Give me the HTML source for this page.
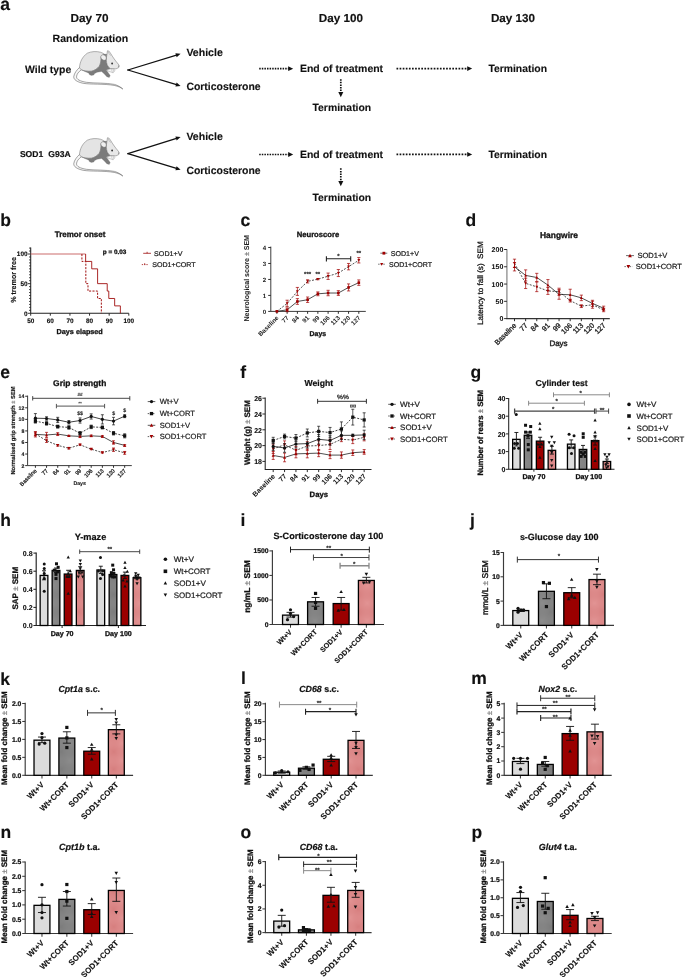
<!DOCTYPE html>
<html lang="en">
<head>
<meta charset="utf-8">
<title>Figure: corticosterone treatment in SOD1 G93A mice</title>
<style>
html,body{margin:0;padding:0;background:#fff;}
body{width:685px;height:977px;overflow:hidden;font-family:'Liberation Sans', sans-serif;}
svg{display:block;font-family:'Liberation Sans', sans-serif;}
svg text{font-family:'Liberation Sans', sans-serif;text-rendering:geometricPrecision;}
</style>
</head>
<body>
<svg width="685" height="977" viewBox="0 0 685 977">
<defs>
<pattern id="pg" width="1.5" height="1.5" patternUnits="userSpaceOnUse" patternTransform="rotate(45)"><rect width="1.5" height="1.5" fill="#8c8c8c"/><rect width="0.75" height="0.75" fill="#7c7c7c"/><rect x="0.75" y="0.75" width="0.75" height="0.75" fill="#7c7c7c"/></pattern>
<pattern id="pp" width="1.5" height="1.5" patternUnits="userSpaceOnUse" patternTransform="rotate(45)"><rect width="1.5" height="1.5" fill="#e29494"/><rect width="0.75" height="0.75" fill="#d67e7e"/><rect x="0.75" y="0.75" width="0.75" height="0.75" fill="#d67e7e"/></pattern>
</defs>
<rect width="685" height="977" fill="#fff"/>
<g id="panel-a">
<text x="0.20" y="9.70" font-size="17.5" font-weight="bold" fill="#111" stroke="#111" stroke-width="0.12">a</text>
<text x="70.50" y="21.90" font-size="11.6" font-weight="bold" fill="#111" stroke="#111" stroke-width="0.15" textLength="38.00" lengthAdjust="spacingAndGlyphs">Day 70</text>
<text x="318.80" y="21.90" font-size="11.6" font-weight="bold" fill="#111" stroke="#111" stroke-width="0.15" textLength="44.20" lengthAdjust="spacingAndGlyphs">Day 100</text>
<text x="490.90" y="21.90" font-size="11.6" font-weight="bold" fill="#111" stroke="#111" stroke-width="0.15" textLength="44.20" lengthAdjust="spacingAndGlyphs">Day 130</text>
<text x="52.60" y="41.60" font-size="10.5" font-weight="bold" fill="#111" stroke="#111" stroke-width="0.12" textLength="75.60" lengthAdjust="spacingAndGlyphs">Randomization</text>
<text x="25.00" y="73.20" font-size="10.4" font-weight="bold" fill="#111" stroke="#111" stroke-width="0.12" textLength="46.20" lengthAdjust="spacingAndGlyphs">Wild type</text>
<g transform="translate(70,46) scale(0.08177)" stroke-linejoin="round">
<path d="M118,262 C85,290 50,335 46,375 C44,410 80,438 160,456 C250,472 420,460 540,482 C590,492 620,508 646,526 C620,502 590,484 545,470 C440,448 300,458 200,444 C120,430 80,408 80,378 C80,345 105,315 140,290 Z" fill="#f7f7f7" stroke="#555" stroke-width="6.5"/>
<path d="M116,268 C118,200 150,130 212,88 C262,64 330,64 372,76 C392,82 406,90 416,98 L380,130 C380,180 376,215 356,250 C336,276 304,298 262,308 C220,312 170,304 140,292 Z" fill="#e4e4e4" stroke="#666" stroke-width="6"/>
<path d="M140,292 C170,304 220,312 262,308 C304,298 336,276 356,250 C376,215 380,180 380,130 L416,98 L452,102 C446,130 444,160 446,178 C446,215 458,240 472,256 L494,276 L444,292 L472,332 L492,362 L480,386 L450,376 L420,342 L386,312 L332,322 L302,336 L290,356 L260,360 L236,350 L230,332 L190,316 Z" fill="#7b7b7b" stroke="#707070" stroke-width="3"/>
<path d="M452,102 L458,58 L478,64 C492,84 502,98 510,112 C524,136 556,182 578,206 L600,234 L596,264 L562,280 L522,276 L494,276 L472,256 C458,240 446,215 446,178 C444,160 446,130 452,102 Z" fill="#e8e8e8" stroke="#666" stroke-width="6"/>
<path d="M466,72 C474,90 486,104 498,118" fill="none" stroke="#8a8a8a" stroke-width="5"/>
<path d="M380,150 C368,126 384,104 410,108 C434,112 448,134 442,160 C436,180 404,182 380,150 Z" fill="#efefef" stroke="#666" stroke-width="6"/>
<circle cx="515" cy="215" r="12" fill="#3a3a3a"/>
<circle cx="596" cy="246" r="9" fill="#808080"/>
<path d="M450,296 L494,280 L540,284 L548,300 L528,328 L500,318 L476,312 Z" fill="#f6f6f6" stroke="#858585" stroke-width="5"/>
<path d="M506,286 L520,322 M530,290 L536,314" fill="none" stroke="#8a8a8a" stroke-width="4"/>
</g>
<line x1="127.90" y1="70.00" x2="176.49" y2="55.06" stroke="#111" stroke-width="1.3" stroke-linecap="round"/>
<path d="M176.63,57.22 L180.60,53.80 L175.39,53.20 Z" fill="#111"/>
<line x1="127.90" y1="70.00" x2="176.48" y2="84.66" stroke="#111" stroke-width="1.3" stroke-linecap="round"/>
<path d="M175.40,86.52 L180.60,85.90 L176.61,82.50 Z" fill="#111"/>
<text x="186.40" y="56.30" font-size="10.5" font-weight="bold" fill="#111" stroke="#111" stroke-width="0.12" textLength="36.40" lengthAdjust="spacingAndGlyphs">Vehicle</text>
<text x="186.40" y="90.00" font-size="10.5" font-weight="bold" fill="#111" stroke="#111" stroke-width="0.12" textLength="74.20" lengthAdjust="spacingAndGlyphs">Corticosterone</text>
<line x1="259.20" y1="68.70" x2="288.80" y2="68.70" stroke="#111" stroke-width="1.7" stroke-dasharray="1.5 1.1" />
<path d="M288.20,66.30 L293.20,68.70 L288.20,71.10 Z" fill="#111"/>
<text x="300.00" y="72.00" font-size="10.4" font-weight="bold" fill="#111" stroke="#111" stroke-width="0.12" textLength="83.10" lengthAdjust="spacingAndGlyphs">End of treatment</text>
<line x1="396.50" y1="68.60" x2="467.80" y2="68.60" stroke="#111" stroke-width="1.7" stroke-dasharray="1.7 1.4" />
<path d="M467.20,66.20 L472.20,68.60 L467.20,71.00 Z" fill="#111"/>
<text x="488.40" y="72.00" font-size="10.4" font-weight="bold" fill="#111" stroke="#111" stroke-width="0.12" textLength="58.60" lengthAdjust="spacingAndGlyphs">Termination</text>
<line x1="340.80" y1="79.20" x2="340.80" y2="92.80" stroke="#111" stroke-width="1.7" stroke-dasharray="1.5 1.1" />
<path d="M338.30,92.10 L340.80,97.20 L343.30,92.10 Z" fill="#111"/>
<text x="312.50" y="111.20" font-size="10.4" font-weight="bold" fill="#111" stroke="#111" stroke-width="0.12" textLength="58.70" lengthAdjust="spacingAndGlyphs">Termination</text>
<text x="19.90" y="157.00" font-size="8.55" font-weight="bold" fill="#111" stroke="#111" stroke-width="0.2">SOD1 <tspan x="48.3">G93A</tspan></text>
<g transform="translate(70,133.0) scale(0.08177)" stroke-linejoin="round">
<path d="M118,262 C85,290 50,335 46,375 C44,410 80,438 160,456 C250,472 420,460 540,482 C590,492 620,508 646,526 C620,502 590,484 545,470 C440,448 300,458 200,444 C120,430 80,408 80,378 C80,345 105,315 140,290 Z" fill="#f7f7f7" stroke="#555" stroke-width="6.5"/>
<path d="M116,268 C118,200 150,130 212,88 C262,64 330,64 372,76 C392,82 406,90 416,98 L380,130 C380,180 376,215 356,250 C336,276 304,298 262,308 C220,312 170,304 140,292 Z" fill="#e4e4e4" stroke="#666" stroke-width="6"/>
<path d="M140,292 C170,304 220,312 262,308 C304,298 336,276 356,250 C376,215 380,180 380,130 L416,98 L452,102 C446,130 444,160 446,178 C446,215 458,240 472,256 L494,276 L444,292 L472,332 L492,362 L480,386 L450,376 L420,342 L386,312 L332,322 L302,336 L290,356 L260,360 L236,350 L230,332 L190,316 Z" fill="#7b7b7b" stroke="#707070" stroke-width="3"/>
<path d="M452,102 L458,58 L478,64 C492,84 502,98 510,112 C524,136 556,182 578,206 L600,234 L596,264 L562,280 L522,276 L494,276 L472,256 C458,240 446,215 446,178 C444,160 446,130 452,102 Z" fill="#e8e8e8" stroke="#666" stroke-width="6"/>
<path d="M466,72 C474,90 486,104 498,118" fill="none" stroke="#8a8a8a" stroke-width="5"/>
<path d="M380,150 C368,126 384,104 410,108 C434,112 448,134 442,160 C436,180 404,182 380,150 Z" fill="#efefef" stroke="#666" stroke-width="6"/>
<circle cx="515" cy="215" r="12" fill="#3a3a3a"/>
<circle cx="596" cy="246" r="9" fill="#808080"/>
<path d="M450,296 L494,280 L540,284 L548,300 L528,328 L500,318 L476,312 Z" fill="#f6f6f6" stroke="#858585" stroke-width="5"/>
<path d="M506,286 L520,322 M530,290 L536,314" fill="none" stroke="#8a8a8a" stroke-width="4"/>
</g>
<line x1="127.90" y1="153.70" x2="176.50" y2="138.30" stroke="#111" stroke-width="1.3" stroke-linecap="round"/>
<path d="M176.66,140.45 L180.60,137.00 L175.39,136.45 Z" fill="#111"/>
<line x1="127.90" y1="153.70" x2="176.49" y2="168.45" stroke="#111" stroke-width="1.3" stroke-linecap="round"/>
<path d="M175.40,170.31 L180.60,169.70 L176.62,166.30 Z" fill="#111"/>
<text x="186.40" y="140.30" font-size="10.5" font-weight="bold" fill="#111" stroke="#111" stroke-width="0.12" textLength="36.40" lengthAdjust="spacingAndGlyphs">Vehicle</text>
<text x="186.40" y="174.00" font-size="10.5" font-weight="bold" fill="#111" stroke="#111" stroke-width="0.12" textLength="74.20" lengthAdjust="spacingAndGlyphs">Corticosterone</text>
<line x1="259.20" y1="154.50" x2="288.80" y2="154.50" stroke="#111" stroke-width="1.7" stroke-dasharray="1.5 1.1" />
<path d="M288.20,152.10 L293.20,154.50 L288.20,156.90 Z" fill="#111"/>
<text x="300.00" y="157.90" font-size="10.4" font-weight="bold" fill="#111" stroke="#111" stroke-width="0.12" textLength="83.10" lengthAdjust="spacingAndGlyphs">End of treatment</text>
<line x1="396.50" y1="154.40" x2="467.80" y2="154.40" stroke="#111" stroke-width="1.7" stroke-dasharray="1.7 1.4" />
<path d="M467.20,152.00 L472.20,154.40 L467.20,156.80 Z" fill="#111"/>
<text x="488.40" y="157.90" font-size="10.4" font-weight="bold" fill="#111" stroke="#111" stroke-width="0.12" textLength="58.60" lengthAdjust="spacingAndGlyphs">Termination</text>
<line x1="340.80" y1="168.30" x2="340.80" y2="181.80" stroke="#111" stroke-width="1.7" stroke-dasharray="1.5 1.1" />
<path d="M338.30,181.10 L340.80,186.20 L343.30,181.10 Z" fill="#111"/>
<text x="312.50" y="201.20" font-size="10.4" font-weight="bold" fill="#111" stroke="#111" stroke-width="0.12" textLength="58.70" lengthAdjust="spacingAndGlyphs">Termination</text>
</g>
<g id="panel-b">
<text x="0.20" y="226.30" font-size="17.5" font-weight="bold" fill="#111" stroke="#111" stroke-width="0.12">b</text>
<text x="54.80" y="236.90" font-size="8" font-weight="bold" fill="#111" stroke="#111" stroke-width="0.3" textLength="50.50" lengthAdjust="spacingAndGlyphs">Tremor onset</text>
<path d="M30.7,247.5 V313.3 H128.8" stroke="#222" stroke-width="1.05" fill="none" />
<line x1="27.90" y1="313.30" x2="30.70" y2="313.30" stroke="#222" stroke-width="0.9" />
<line x1="29.10" y1="310.34" x2="30.70" y2="310.34" stroke="#222" stroke-width="0.9" />
<line x1="29.10" y1="307.37" x2="30.70" y2="307.37" stroke="#222" stroke-width="0.9" />
<line x1="29.10" y1="304.41" x2="30.70" y2="304.41" stroke="#222" stroke-width="0.9" />
<line x1="29.10" y1="301.44" x2="30.70" y2="301.44" stroke="#222" stroke-width="0.9" />
<line x1="29.10" y1="298.48" x2="30.70" y2="298.48" stroke="#222" stroke-width="0.9" />
<line x1="29.10" y1="295.51" x2="30.70" y2="295.51" stroke="#222" stroke-width="0.9" />
<line x1="29.10" y1="292.55" x2="30.70" y2="292.55" stroke="#222" stroke-width="0.9" />
<line x1="29.10" y1="289.58" x2="30.70" y2="289.58" stroke="#222" stroke-width="0.9" />
<line x1="29.10" y1="286.62" x2="30.70" y2="286.62" stroke="#222" stroke-width="0.9" />
<line x1="27.90" y1="283.65" x2="30.70" y2="283.65" stroke="#222" stroke-width="0.9" />
<line x1="29.10" y1="280.69" x2="30.70" y2="280.69" stroke="#222" stroke-width="0.9" />
<line x1="29.10" y1="277.72" x2="30.70" y2="277.72" stroke="#222" stroke-width="0.9" />
<line x1="29.10" y1="274.75" x2="30.70" y2="274.75" stroke="#222" stroke-width="0.9" />
<line x1="29.10" y1="271.79" x2="30.70" y2="271.79" stroke="#222" stroke-width="0.9" />
<line x1="29.10" y1="268.83" x2="30.70" y2="268.83" stroke="#222" stroke-width="0.9" />
<line x1="29.10" y1="265.86" x2="30.70" y2="265.86" stroke="#222" stroke-width="0.9" />
<line x1="29.10" y1="262.89" x2="30.70" y2="262.89" stroke="#222" stroke-width="0.9" />
<line x1="29.10" y1="259.93" x2="30.70" y2="259.93" stroke="#222" stroke-width="0.9" />
<line x1="29.10" y1="256.97" x2="30.70" y2="256.97" stroke="#222" stroke-width="0.9" />
<line x1="27.90" y1="254.00" x2="30.70" y2="254.00" stroke="#222" stroke-width="0.9" />
<line x1="29.10" y1="251.04" x2="30.70" y2="251.04" stroke="#222" stroke-width="0.9" />
<line x1="29.10" y1="248.07" x2="30.70" y2="248.07" stroke="#222" stroke-width="0.9" />
<text x="27.50" y="315.60" font-size="6.4" font-weight="bold" fill="#111" stroke="#111" stroke-width="0.14" text-anchor="end">0</text>
<text x="27.50" y="285.95" font-size="6.4" font-weight="bold" fill="#111" stroke="#111" stroke-width="0.14" text-anchor="end">50</text>
<text x="27.50" y="256.30" font-size="6.4" font-weight="bold" fill="#111" stroke="#111" stroke-width="0.14" text-anchor="end">100</text>
<line x1="30.70" y1="313.30" x2="30.70" y2="315.70" stroke="#222" stroke-width="0.95" />
<text x="30.70" y="322.60" font-size="6.4" font-weight="bold" fill="#111" stroke="#111" stroke-width="0.14" text-anchor="middle">50</text>
<line x1="50.32" y1="313.30" x2="50.32" y2="315.70" stroke="#222" stroke-width="0.95" />
<text x="50.32" y="322.60" font-size="6.4" font-weight="bold" fill="#111" stroke="#111" stroke-width="0.14" text-anchor="middle">60</text>
<line x1="69.94" y1="313.30" x2="69.94" y2="315.70" stroke="#222" stroke-width="0.95" />
<text x="69.94" y="322.60" font-size="6.4" font-weight="bold" fill="#111" stroke="#111" stroke-width="0.14" text-anchor="middle">70</text>
<line x1="89.56" y1="313.30" x2="89.56" y2="315.70" stroke="#222" stroke-width="0.95" />
<text x="89.56" y="322.60" font-size="6.4" font-weight="bold" fill="#111" stroke="#111" stroke-width="0.14" text-anchor="middle">80</text>
<line x1="109.18" y1="313.30" x2="109.18" y2="315.70" stroke="#222" stroke-width="0.95" />
<text x="109.18" y="322.60" font-size="6.4" font-weight="bold" fill="#111" stroke="#111" stroke-width="0.14" text-anchor="middle">90</text>
<line x1="128.80" y1="313.30" x2="128.80" y2="315.70" stroke="#222" stroke-width="0.95" />
<text x="128.80" y="322.60" font-size="6.4" font-weight="bold" fill="#111" stroke="#111" stroke-width="0.14" text-anchor="middle">100</text>
<text x="56.60" y="334.30" font-size="7.2" font-weight="bold" fill="#111" stroke="#111" stroke-width="0.3" textLength="46.20" lengthAdjust="spacingAndGlyphs">Days elapsed</text>
<text x="16.00" y="302.80" font-size="7.4" font-weight="bold" fill="#111" stroke="#111" stroke-width="0.12" transform="rotate(-90 16.00 302.80)" textLength="45.80" lengthAdjust="spacingAndGlyphs">% tremor free</text>
<text x="102.80" y="253.90" font-size="6.3" font-weight="bold" fill="#111" stroke="#111" stroke-width="0.3" textLength="23.50" lengthAdjust="spacingAndGlyphs">p = 0.03</text>
<path d="M30.70,254.00 H85.64" stroke="#cc6c6c" stroke-width="1.1" fill="none" />
<path d="M85.64,254.00 H85.64 V261.41 H91.72 V268.83 H97.60 V283.65 H107.22 V291.06 H108.79 V298.48 H114.67 V305.89 H120.36 V313.30" stroke="#a01010" stroke-width="0.9" fill="none" />
<path d="M81.91,254.00 H81.91 V261.41 H85.83 V283.65 H87.99 V291.06 H97.60 V298.48 H101.33 V313.30" stroke="#a01010" stroke-width="1.0" fill="none" stroke-dasharray="2.1 1.3" />
<line x1="143.20" y1="253.30" x2="151.00" y2="253.30" stroke="#a01010" stroke-width="0.8" />
<line x1="147.10" y1="251.80" x2="147.10" y2="253.30" stroke="#a01010" stroke-width="0.8" />
<line x1="141.80" y1="264.60" x2="148.20" y2="264.60" stroke="#a01010" stroke-width="0.8" stroke-dasharray="1.3 1" />
<line x1="144.70" y1="263.20" x2="144.70" y2="264.60" stroke="#a01010" stroke-width="0.8" />
<text x="154.10" y="256.00" font-size="6.9" font-weight="normal" fill="#222" stroke="#222" stroke-width="0.22" textLength="28.30" lengthAdjust="spacingAndGlyphs">SOD1+V</text>
<text x="152.20" y="267.30" font-size="6.9" font-weight="normal" fill="#222" stroke="#222" stroke-width="0.22" textLength="43.50" lengthAdjust="spacingAndGlyphs">SOD1+CORT</text>
</g>
<g id="panel-c">
<text x="240.50" y="226.30" font-size="17.5" font-weight="bold" fill="#111" stroke="#111" stroke-width="0.12">c</text>
<text x="296.70" y="236.90" font-size="7.7" font-weight="bold" fill="#111" stroke="#111" stroke-width="0.3" textLength="42.50" lengthAdjust="spacingAndGlyphs">Neuroscore</text>
<path d="M270.8,246.6 V311.4 H365.8" stroke="#333" stroke-width="0.95" fill="none" />
<line x1="268.20" y1="311.40" x2="270.80" y2="311.40" stroke="#222" stroke-width="0.95" />
<text x="266.20" y="313.60" font-size="6.1" font-weight="bold" fill="#222" stroke="#222" stroke-width="0.0" text-anchor="end">0</text>
<line x1="268.20" y1="295.42" x2="270.80" y2="295.42" stroke="#222" stroke-width="0.95" />
<text x="266.20" y="297.62" font-size="6.1" font-weight="bold" fill="#222" stroke="#222" stroke-width="0.0" text-anchor="end">1</text>
<line x1="268.20" y1="279.44" x2="270.80" y2="279.44" stroke="#222" stroke-width="0.95" />
<text x="266.20" y="281.64" font-size="6.1" font-weight="bold" fill="#222" stroke="#222" stroke-width="0.0" text-anchor="end">2</text>
<line x1="268.20" y1="263.46" x2="270.80" y2="263.46" stroke="#222" stroke-width="0.95" />
<text x="266.20" y="265.66" font-size="6.1" font-weight="bold" fill="#222" stroke="#222" stroke-width="0.0" text-anchor="end">3</text>
<line x1="268.20" y1="247.48" x2="270.80" y2="247.48" stroke="#222" stroke-width="0.95" />
<text x="266.20" y="249.68" font-size="6.1" font-weight="bold" fill="#222" stroke="#222" stroke-width="0.0" text-anchor="end">4</text>
<line x1="276.90" y1="311.40" x2="276.90" y2="313.80" stroke="#222" stroke-width="0.95" />
<line x1="287.14" y1="311.40" x2="287.14" y2="313.80" stroke="#222" stroke-width="0.95" />
<line x1="297.38" y1="311.40" x2="297.38" y2="313.80" stroke="#222" stroke-width="0.95" />
<line x1="307.62" y1="311.40" x2="307.62" y2="313.80" stroke="#222" stroke-width="0.95" />
<line x1="317.86" y1="311.40" x2="317.86" y2="313.80" stroke="#222" stroke-width="0.95" />
<line x1="328.10" y1="311.40" x2="328.10" y2="313.80" stroke="#222" stroke-width="0.95" />
<line x1="338.34" y1="311.40" x2="338.34" y2="313.80" stroke="#222" stroke-width="0.95" />
<line x1="348.58" y1="311.40" x2="348.58" y2="313.80" stroke="#222" stroke-width="0.95" />
<line x1="358.82" y1="311.40" x2="358.82" y2="313.80" stroke="#222" stroke-width="0.95" />
<text x="279.10" y="318.30" font-size="6.3" font-weight="bold" fill="#222" stroke="#222" stroke-width="0.0" text-anchor="end" transform="rotate(-45 279.10 318.30)">Baseline</text>
<text x="289.34" y="318.30" font-size="6.3" font-weight="bold" fill="#222" stroke="#222" stroke-width="0.0" text-anchor="end" transform="rotate(-45 289.34 318.30)">77</text>
<text x="299.58" y="318.30" font-size="6.3" font-weight="bold" fill="#222" stroke="#222" stroke-width="0.0" text-anchor="end" transform="rotate(-45 299.58 318.30)">84</text>
<text x="309.82" y="318.30" font-size="6.3" font-weight="bold" fill="#222" stroke="#222" stroke-width="0.0" text-anchor="end" transform="rotate(-45 309.82 318.30)">91</text>
<text x="320.06" y="318.30" font-size="6.3" font-weight="bold" fill="#222" stroke="#222" stroke-width="0.0" text-anchor="end" transform="rotate(-45 320.06 318.30)">99</text>
<text x="330.30" y="318.30" font-size="6.3" font-weight="bold" fill="#222" stroke="#222" stroke-width="0.0" text-anchor="end" transform="rotate(-45 330.30 318.30)">106</text>
<text x="340.54" y="318.30" font-size="6.3" font-weight="bold" fill="#222" stroke="#222" stroke-width="0.0" text-anchor="end" transform="rotate(-45 340.54 318.30)">113</text>
<text x="350.78" y="318.30" font-size="6.3" font-weight="bold" fill="#222" stroke="#222" stroke-width="0.0" text-anchor="end" transform="rotate(-45 350.78 318.30)">120</text>
<text x="361.02" y="318.30" font-size="6.3" font-weight="bold" fill="#222" stroke="#222" stroke-width="0.0" text-anchor="end" transform="rotate(-45 361.02 318.30)">127</text>
<text x="309.60" y="336.10" font-size="7.1" font-weight="bold" fill="#111" stroke="#111" stroke-width="0.3" textLength="16.50" lengthAdjust="spacingAndGlyphs">Days</text>
<text x="249.20" y="321.50" font-size="7.05" font-weight="bold" fill="#1c1c1c" stroke="#1c1c1c" stroke-width="0.05" transform="rotate(-90 249.20 321.50)" textLength="86.50" lengthAdjust="spacingAndGlyphs">Neurological score <tspan fill="#6e6e6e" stroke="#6e6e6e" stroke-width="0.15" font-weight="normal">±</tspan> SEM</text>
<path d="M276.90,311.40 L287.14,309.80 L297.38,301.49 L307.62,299.73 L317.86,293.82 L328.10,293.02 L338.34,293.02 L348.58,287.43 L358.82,282.64" stroke="#222" stroke-width="0.8" fill="none" />
<path d="M276.90,311.40 L287.14,303.41 L297.38,291.42 L307.62,281.36 L317.86,279.12 L328.10,276.24 L338.34,273.05 L348.58,266.66 L358.82,260.26" stroke="#222" stroke-width="0.8" fill="none" stroke-dasharray="2 1.4" />
<rect x="275.60" y="310.10" width="2.60" height="2.60" fill="#a00000"/>
<path d="M287.14,307.88 V311.72 M285.54,307.88 H288.74 M285.54,311.72 H288.74" stroke="#a00000" stroke-width="0.7" fill="none" />
<rect x="285.84" y="308.50" width="2.60" height="2.60" fill="#a00000"/>
<path d="M297.38,298.62 V304.37 M295.78,298.62 H298.98 M295.78,304.37 H298.98" stroke="#a00000" stroke-width="0.7" fill="none" />
<rect x="296.08" y="300.19" width="2.60" height="2.60" fill="#a00000"/>
<path d="M307.62,297.02 V302.45 M306.02,297.02 H309.22 M306.02,302.45 H309.22" stroke="#a00000" stroke-width="0.7" fill="none" />
<rect x="306.32" y="298.43" width="2.60" height="2.60" fill="#a00000"/>
<path d="M317.86,291.90 V295.74 M316.26,291.90 H319.46 M316.26,295.74 H319.46" stroke="#a00000" stroke-width="0.7" fill="none" />
<rect x="316.56" y="292.52" width="2.60" height="2.60" fill="#a00000"/>
<path d="M328.10,290.31 V295.74 M326.50,290.31 H329.70 M326.50,295.74 H329.70" stroke="#a00000" stroke-width="0.7" fill="none" />
<rect x="326.80" y="291.72" width="2.60" height="2.60" fill="#a00000"/>
<path d="M338.34,290.63 V295.42 M336.74,290.63 H339.94 M336.74,295.42 H339.94" stroke="#a00000" stroke-width="0.7" fill="none" />
<rect x="337.04" y="291.72" width="2.60" height="2.60" fill="#a00000"/>
<path d="M348.58,283.91 V290.95 M346.98,283.91 H350.18 M346.98,290.95 H350.18" stroke="#a00000" stroke-width="0.7" fill="none" />
<rect x="347.28" y="286.13" width="2.60" height="2.60" fill="#a00000"/>
<path d="M358.82,279.92 V285.35 M357.22,279.92 H360.42 M357.22,285.35 H360.42" stroke="#a00000" stroke-width="0.7" fill="none" />
<rect x="357.52" y="281.34" width="2.60" height="2.60" fill="#a00000"/>
<path d="M275.47,310.23 L278.33,310.23 L276.90,312.83 Z" fill="#a00000"/>
<path d="M287.14,300.21 V306.61 M285.54,300.21 H288.74 M285.54,306.61 H288.74" stroke="#a00000" stroke-width="0.7" fill="none" />
<path d="M285.71,302.24 L288.57,302.24 L287.14,304.84 Z" fill="#a00000"/>
<path d="M297.38,287.43 V295.42 M295.78,287.43 H298.98 M295.78,295.42 H298.98" stroke="#a00000" stroke-width="0.7" fill="none" />
<path d="M295.95,290.25 L298.81,290.25 L297.38,292.85 Z" fill="#a00000"/>
<path d="M307.62,279.76 V282.96 M306.02,279.76 H309.22 M306.02,282.96 H309.22" stroke="#a00000" stroke-width="0.7" fill="none" />
<path d="M306.19,280.19 L309.05,280.19 L307.62,282.79 Z" fill="#a00000"/>
<path d="M317.86,278.48 V279.76 M316.26,278.48 H319.46 M316.26,279.76 H319.46" stroke="#a00000" stroke-width="0.7" fill="none" />
<path d="M316.43,277.95 L319.29,277.95 L317.86,280.55 Z" fill="#a00000"/>
<path d="M328.10,273.05 V279.44 M326.50,273.05 H329.70 M326.50,279.44 H329.70" stroke="#a00000" stroke-width="0.7" fill="none" />
<path d="M326.67,275.07 L329.53,275.07 L328.10,277.67 Z" fill="#a00000"/>
<path d="M338.34,269.53 V276.56 M336.74,269.53 H339.94 M336.74,276.56 H339.94" stroke="#a00000" stroke-width="0.7" fill="none" />
<path d="M336.91,271.88 L339.77,271.88 L338.34,274.48 Z" fill="#a00000"/>
<path d="M348.58,263.46 V269.85 M346.98,263.46 H350.18 M346.98,269.85 H350.18" stroke="#a00000" stroke-width="0.7" fill="none" />
<path d="M347.15,265.49 L350.01,265.49 L348.58,268.09 Z" fill="#a00000"/>
<path d="M358.82,257.55 V262.98 M357.22,257.55 H360.42 M357.22,262.98 H360.42" stroke="#a00000" stroke-width="0.7" fill="none" />
<path d="M357.39,259.09 L360.25,259.09 L358.82,261.69 Z" fill="#a00000"/>
<text x="307.62" y="276.30" font-size="6.0" font-weight="bold" fill="#222" stroke="#222" stroke-width="0.15" text-anchor="middle">***</text>
<text x="317.86" y="276.30" font-size="6.0" font-weight="bold" fill="#222" stroke="#222" stroke-width="0.15" text-anchor="middle">**</text>
<path d="M326.40,258.80 H350.70 M326.40,256.20 V261.40 M350.70,256.20 V261.40" stroke="#222" stroke-width="1.1" fill="none" />
<text x="338.40" y="258.00" font-size="6.0" font-weight="bold" fill="#222" stroke="#222" stroke-width="0.15" text-anchor="middle">*</text>
<text x="358.82" y="255.20" font-size="6.0" font-weight="bold" fill="#222" stroke="#222" stroke-width="0.15" text-anchor="middle">**</text>
<line x1="380.30" y1="253.20" x2="387.30" y2="253.20" stroke="#333" stroke-width="0.7" />
<rect x="382.50" y="251.80" width="2.80" height="2.80" fill="#a00000"/>
<text x="390.70" y="255.70" font-size="7.0" font-weight="normal" fill="#222" stroke="#222" stroke-width="0.22" textLength="28.20" lengthAdjust="spacingAndGlyphs">SOD1+V</text>
<line x1="378.10" y1="264.20" x2="385.10" y2="264.20" stroke="#333" stroke-width="0.7" stroke-dasharray="1.5 1.1" />
<path d="M380.16,262.94 L383.24,262.94 L381.70,265.74 Z" fill="#a00000"/>
<text x="389.00" y="266.70" font-size="7.0" font-weight="normal" fill="#222" stroke="#222" stroke-width="0.22" textLength="43.00" lengthAdjust="spacingAndGlyphs">SOD1+CORT</text>
</g>
<g id="panel-d">
<text x="465.40" y="226.30" font-size="17.5" font-weight="bold" fill="#111" stroke="#111" stroke-width="0.12">d</text>
<text x="540.00" y="237.70" font-size="8.4" font-weight="bold" fill="#111" stroke="#111" stroke-width="0.3" textLength="38.00" lengthAdjust="spacingAndGlyphs">Hangwire</text>
<path d="M506.9,249.2 V318.6" stroke="#8c8c8c" stroke-width="1.3" fill="none" />
<path d="M506.29999999999995,318.6 H609.8" stroke="#333" stroke-width="1.05" fill="none" />
<line x1="504.10" y1="318.60" x2="506.90" y2="318.60" stroke="#222" stroke-width="0.95" />
<text x="503.30" y="321.10" font-size="7.0" font-weight="bold" fill="#111" stroke="#111" stroke-width="0.05" text-anchor="end">0</text>
<line x1="504.10" y1="301.33" x2="506.90" y2="301.33" stroke="#222" stroke-width="0.95" />
<text x="503.30" y="303.83" font-size="7.0" font-weight="bold" fill="#111" stroke="#111" stroke-width="0.05" text-anchor="end">50</text>
<line x1="504.10" y1="284.05" x2="506.90" y2="284.05" stroke="#222" stroke-width="0.95" />
<text x="503.30" y="286.55" font-size="7.0" font-weight="bold" fill="#111" stroke="#111" stroke-width="0.05" text-anchor="end">100</text>
<line x1="504.10" y1="266.78" x2="506.90" y2="266.78" stroke="#222" stroke-width="0.95" />
<text x="503.30" y="269.28" font-size="7.0" font-weight="bold" fill="#111" stroke="#111" stroke-width="0.05" text-anchor="end">150</text>
<line x1="504.10" y1="249.50" x2="506.90" y2="249.50" stroke="#222" stroke-width="0.95" />
<text x="503.30" y="252.00" font-size="7.0" font-weight="bold" fill="#111" stroke="#111" stroke-width="0.05" text-anchor="end">200</text>
<line x1="514.50" y1="318.60" x2="514.50" y2="321.20" stroke="#222" stroke-width="0.95" />
<line x1="525.64" y1="318.60" x2="525.64" y2="321.20" stroke="#222" stroke-width="0.95" />
<line x1="536.78" y1="318.60" x2="536.78" y2="321.20" stroke="#222" stroke-width="0.95" />
<line x1="547.92" y1="318.60" x2="547.92" y2="321.20" stroke="#222" stroke-width="0.95" />
<line x1="559.06" y1="318.60" x2="559.06" y2="321.20" stroke="#222" stroke-width="0.95" />
<line x1="570.20" y1="318.60" x2="570.20" y2="321.20" stroke="#222" stroke-width="0.95" />
<line x1="581.34" y1="318.60" x2="581.34" y2="321.20" stroke="#222" stroke-width="0.95" />
<line x1="592.48" y1="318.60" x2="592.48" y2="321.20" stroke="#222" stroke-width="0.95" />
<line x1="603.62" y1="318.60" x2="603.62" y2="321.20" stroke="#222" stroke-width="0.95" />
<text x="516.90" y="326.00" font-size="7.2" font-weight="normal" fill="#222" stroke="#222" stroke-width="0.3" text-anchor="end" transform="rotate(-45 516.90 326.00)">Baseline</text>
<text x="528.04" y="326.00" font-size="7.2" font-weight="normal" fill="#222" stroke="#222" stroke-width="0.3" text-anchor="end" transform="rotate(-45 528.04 326.00)">77</text>
<text x="539.18" y="326.00" font-size="7.2" font-weight="normal" fill="#222" stroke="#222" stroke-width="0.3" text-anchor="end" transform="rotate(-45 539.18 326.00)">84</text>
<text x="550.32" y="326.00" font-size="7.2" font-weight="normal" fill="#222" stroke="#222" stroke-width="0.3" text-anchor="end" transform="rotate(-45 550.32 326.00)">91</text>
<text x="561.46" y="326.00" font-size="7.2" font-weight="normal" fill="#222" stroke="#222" stroke-width="0.3" text-anchor="end" transform="rotate(-45 561.46 326.00)">99</text>
<text x="572.60" y="326.00" font-size="7.2" font-weight="normal" fill="#222" stroke="#222" stroke-width="0.3" text-anchor="end" transform="rotate(-45 572.60 326.00)">106</text>
<text x="583.74" y="326.00" font-size="7.2" font-weight="normal" fill="#222" stroke="#222" stroke-width="0.3" text-anchor="end" transform="rotate(-45 583.74 326.00)">113</text>
<text x="594.88" y="326.00" font-size="7.2" font-weight="normal" fill="#222" stroke="#222" stroke-width="0.3" text-anchor="end" transform="rotate(-45 594.88 326.00)">120</text>
<text x="606.02" y="326.00" font-size="7.2" font-weight="normal" fill="#222" stroke="#222" stroke-width="0.3" text-anchor="end" transform="rotate(-45 606.02 326.00)">127</text>
<text x="549.40" y="346.00" font-size="7.9" font-weight="normal" fill="#222" stroke="#222" stroke-width="0.4" textLength="18.20" lengthAdjust="spacingAndGlyphs">Days</text>
<text x="482.60" y="325.10" font-size="7.9" font-weight="normal" fill="#111" stroke="#111" stroke-width="0.28" transform="rotate(-90 482.60 325.10)" textLength="83.80" lengthAdjust="spacingAndGlyphs">Latency to fall (s)  SEM</text>
<path d="M514.50,266.78 L525.64,275.41 L536.78,277.49 L547.92,285.09 L559.06,294.42 L570.20,294.76 L581.34,297.87 L592.48,303.40 L603.62,308.24" stroke="#222" stroke-width="0.8" fill="none" />
<path d="M514.50,263.32 L525.64,283.36 L536.78,286.81 L547.92,290.96 L559.06,291.65 L570.20,300.63 L581.34,306.16 L592.48,304.78 L603.62,309.96" stroke="#222" stroke-width="0.8" fill="none" stroke-dasharray="2 1.4" />
<path d="M514.50,262.63 V270.92 M512.90,262.63 H516.10 M512.90,270.92 H516.10" stroke="#a00000" stroke-width="0.7" fill="none" />
<path d="M513.07,267.95 L515.93,267.95 L514.50,265.35 Z" fill="#a00000"/>
<path d="M525.64,269.88 V280.94 M524.04,269.88 H527.24 M524.04,280.94 H527.24" stroke="#a00000" stroke-width="0.7" fill="none" />
<path d="M524.21,276.58 L527.07,276.58 L525.64,273.98 Z" fill="#a00000"/>
<path d="M536.78,273.34 V281.63 M535.18,273.34 H538.38 M535.18,281.63 H538.38" stroke="#a00000" stroke-width="0.7" fill="none" />
<path d="M535.35,278.66 L538.21,278.66 L536.78,276.06 Z" fill="#a00000"/>
<path d="M547.92,279.56 V290.61 M546.32,279.56 H549.52 M546.32,290.61 H549.52" stroke="#a00000" stroke-width="0.7" fill="none" />
<path d="M546.49,286.26 L549.35,286.26 L547.92,283.66 Z" fill="#a00000"/>
<path d="M559.06,289.58 V299.25 M557.46,289.58 H560.66 M557.46,299.25 H560.66" stroke="#a00000" stroke-width="0.7" fill="none" />
<path d="M557.63,295.59 L560.49,295.59 L559.06,292.99 Z" fill="#a00000"/>
<path d="M570.20,289.23 V300.29 M568.60,289.23 H571.80 M568.60,300.29 H571.80" stroke="#a00000" stroke-width="0.7" fill="none" />
<path d="M568.77,295.93 L571.63,295.93 L570.20,293.33 Z" fill="#a00000"/>
<path d="M581.34,295.11 V300.63 M579.74,295.11 H582.94 M579.74,300.63 H582.94" stroke="#a00000" stroke-width="0.7" fill="none" />
<path d="M579.91,299.04 L582.77,299.04 L581.34,296.44 Z" fill="#a00000"/>
<path d="M592.48,300.29 V306.51 M590.88,300.29 H594.08 M590.88,306.51 H594.08" stroke="#a00000" stroke-width="0.7" fill="none" />
<path d="M591.05,304.57 L593.91,304.57 L592.48,301.97 Z" fill="#a00000"/>
<path d="M603.62,306.16 V310.31 M602.02,306.16 H605.22 M602.02,310.31 H605.22" stroke="#a00000" stroke-width="0.7" fill="none" />
<path d="M602.19,309.41 L605.05,309.41 L603.62,306.81 Z" fill="#a00000"/>
<path d="M514.50,259.17 V267.47 M512.90,259.17 H516.10 M512.90,267.47 H516.10" stroke="#a00000" stroke-width="0.7" fill="none" />
<path d="M513.07,262.15 L515.93,262.15 L514.50,264.75 Z" fill="#a00000"/>
<path d="M525.64,278.18 V288.54 M524.04,278.18 H527.24 M524.04,288.54 H527.24" stroke="#a00000" stroke-width="0.7" fill="none" />
<path d="M524.21,282.19 L527.07,282.19 L525.64,284.79 Z" fill="#a00000"/>
<path d="M536.78,281.98 V291.65 M535.18,281.98 H538.38 M535.18,291.65 H538.38" stroke="#a00000" stroke-width="0.7" fill="none" />
<path d="M535.35,285.64 L538.21,285.64 L536.78,288.24 Z" fill="#a00000"/>
<path d="M547.92,287.50 V294.42 M546.32,287.50 H549.52 M546.32,294.42 H549.52" stroke="#a00000" stroke-width="0.7" fill="none" />
<path d="M546.49,289.79 L549.35,289.79 L547.92,292.39 Z" fill="#a00000"/>
<path d="M559.06,288.20 V295.11 M557.46,288.20 H560.66 M557.46,295.11 H560.66" stroke="#a00000" stroke-width="0.7" fill="none" />
<path d="M557.63,290.48 L560.49,290.48 L559.06,293.08 Z" fill="#a00000"/>
<path d="M570.20,299.25 V302.02 M568.60,299.25 H571.80 M568.60,302.02 H571.80" stroke="#a00000" stroke-width="0.7" fill="none" />
<path d="M568.77,299.46 L571.63,299.46 L570.20,302.06 Z" fill="#a00000"/>
<path d="M581.34,304.78 V307.54 M579.74,304.78 H582.94 M579.74,307.54 H582.94" stroke="#a00000" stroke-width="0.7" fill="none" />
<path d="M579.91,304.99 L582.77,304.99 L581.34,307.59 Z" fill="#a00000"/>
<path d="M592.48,301.33 V308.24 M590.88,301.33 H594.08 M590.88,308.24 H594.08" stroke="#a00000" stroke-width="0.7" fill="none" />
<path d="M591.05,303.61 L593.91,303.61 L592.48,306.21 Z" fill="#a00000"/>
<path d="M603.62,308.24 V311.69 M602.02,308.24 H605.22 M602.02,311.69 H605.22" stroke="#a00000" stroke-width="0.7" fill="none" />
<path d="M602.19,308.79 L605.05,308.79 L603.62,311.39 Z" fill="#a00000"/>
<line x1="626.00" y1="255.60" x2="634.00" y2="255.60" stroke="#333" stroke-width="0.7" />
<path d="M628.13,257.13 L631.87,257.13 L630.00,253.73 Z" fill="#a00000"/>
<text x="637.40" y="258.30" font-size="7.5" font-weight="normal" fill="#222" stroke="#222" stroke-width="0.22" textLength="30.00" lengthAdjust="spacingAndGlyphs">SOD1+V</text>
<line x1="624.40" y1="266.60" x2="632.40" y2="266.60" stroke="#333" stroke-width="0.7" stroke-dasharray="1.5 1.1" />
<path d="M626.53,265.07 L630.27,265.07 L628.40,268.47 Z" fill="#a00000"/>
<text x="635.80" y="269.30" font-size="7.5" font-weight="normal" fill="#222" stroke="#222" stroke-width="0.22" textLength="46.00" lengthAdjust="spacingAndGlyphs">SOD1+CORT</text>
</g>
<g id="panel-e">
<text x="0.20" y="377.80" font-size="17.5" font-weight="bold" fill="#111" stroke="#111" stroke-width="0.12">e</text>
<text x="53.10" y="386.00" font-size="8.4" font-weight="bold" fill="#111" stroke="#111" stroke-width="0.3" textLength="53.20" lengthAdjust="spacingAndGlyphs">Grip strength</text>
<path d="M27.6,395.6 V465.6 H131.8" stroke="#333" stroke-width="0.95" fill="none" />
<line x1="25.20" y1="465.60" x2="27.60" y2="465.60" stroke="#222" stroke-width="0.95" />
<text x="24.40" y="467.50" font-size="5.2" font-weight="bold" fill="#111" stroke="#111" stroke-width="0.14" text-anchor="end">2</text>
<line x1="25.20" y1="454.04" x2="27.60" y2="454.04" stroke="#222" stroke-width="0.95" />
<text x="24.40" y="455.94" font-size="5.2" font-weight="bold" fill="#111" stroke="#111" stroke-width="0.14" text-anchor="end">4</text>
<line x1="25.20" y1="442.48" x2="27.60" y2="442.48" stroke="#222" stroke-width="0.95" />
<text x="24.40" y="444.38" font-size="5.2" font-weight="bold" fill="#111" stroke="#111" stroke-width="0.14" text-anchor="end">6</text>
<line x1="25.20" y1="430.92" x2="27.60" y2="430.92" stroke="#222" stroke-width="0.95" />
<text x="24.40" y="432.82" font-size="5.2" font-weight="bold" fill="#111" stroke="#111" stroke-width="0.14" text-anchor="end">8</text>
<line x1="25.20" y1="419.36" x2="27.60" y2="419.36" stroke="#222" stroke-width="0.95" />
<text x="24.40" y="421.26" font-size="5.2" font-weight="bold" fill="#111" stroke="#111" stroke-width="0.14" text-anchor="end">10</text>
<line x1="25.20" y1="407.80" x2="27.60" y2="407.80" stroke="#222" stroke-width="0.95" />
<text x="24.40" y="409.70" font-size="5.2" font-weight="bold" fill="#111" stroke="#111" stroke-width="0.14" text-anchor="end">12</text>
<line x1="25.20" y1="396.24" x2="27.60" y2="396.24" stroke="#222" stroke-width="0.95" />
<text x="24.40" y="398.14" font-size="5.2" font-weight="bold" fill="#111" stroke="#111" stroke-width="0.14" text-anchor="end">14</text>
<line x1="35.40" y1="465.60" x2="35.40" y2="467.80" stroke="#222" stroke-width="0.95" />
<line x1="46.56" y1="465.60" x2="46.56" y2="467.80" stroke="#222" stroke-width="0.95" />
<line x1="57.72" y1="465.60" x2="57.72" y2="467.80" stroke="#222" stroke-width="0.95" />
<line x1="68.88" y1="465.60" x2="68.88" y2="467.80" stroke="#222" stroke-width="0.95" />
<line x1="80.04" y1="465.60" x2="80.04" y2="467.80" stroke="#222" stroke-width="0.95" />
<line x1="91.20" y1="465.60" x2="91.20" y2="467.80" stroke="#222" stroke-width="0.95" />
<line x1="102.36" y1="465.60" x2="102.36" y2="467.80" stroke="#222" stroke-width="0.95" />
<line x1="113.52" y1="465.60" x2="113.52" y2="467.80" stroke="#222" stroke-width="0.95" />
<line x1="124.68" y1="465.60" x2="124.68" y2="467.80" stroke="#222" stroke-width="0.95" />
<text x="37.20" y="471.20" font-size="5.6" font-weight="normal" fill="#222" stroke="#222" stroke-width="0.25" text-anchor="end" transform="rotate(-45 37.20 471.20)">Baseline</text>
<text x="48.36" y="471.20" font-size="5.6" font-weight="normal" fill="#222" stroke="#222" stroke-width="0.25" text-anchor="end" transform="rotate(-45 48.36 471.20)">77</text>
<text x="59.52" y="471.20" font-size="5.6" font-weight="normal" fill="#222" stroke="#222" stroke-width="0.25" text-anchor="end" transform="rotate(-45 59.52 471.20)">84</text>
<text x="70.68" y="471.20" font-size="5.6" font-weight="normal" fill="#222" stroke="#222" stroke-width="0.25" text-anchor="end" transform="rotate(-45 70.68 471.20)">91</text>
<text x="81.84" y="471.20" font-size="5.6" font-weight="normal" fill="#222" stroke="#222" stroke-width="0.25" text-anchor="end" transform="rotate(-45 81.84 471.20)">99</text>
<text x="93.00" y="471.20" font-size="5.6" font-weight="normal" fill="#222" stroke="#222" stroke-width="0.25" text-anchor="end" transform="rotate(-45 93.00 471.20)">106</text>
<text x="104.16" y="471.20" font-size="5.6" font-weight="normal" fill="#222" stroke="#222" stroke-width="0.25" text-anchor="end" transform="rotate(-45 104.16 471.20)">113</text>
<text x="115.32" y="471.20" font-size="5.6" font-weight="normal" fill="#222" stroke="#222" stroke-width="0.25" text-anchor="end" transform="rotate(-45 115.32 471.20)">120</text>
<text x="126.48" y="471.20" font-size="5.6" font-weight="normal" fill="#222" stroke="#222" stroke-width="0.25" text-anchor="end" transform="rotate(-45 126.48 471.20)">127</text>
<text x="73.40" y="485.00" font-size="5.3" font-weight="bold" fill="#222" stroke="#222" stroke-width="0.1" textLength="12.60" lengthAdjust="spacingAndGlyphs">Days</text>
<text x="15.40" y="474.60" font-size="5.8" font-weight="bold" fill="#111" stroke="#111" stroke-width="0.15" transform="rotate(-90 15.40 474.60)" textLength="88.30" lengthAdjust="spacingAndGlyphs">Normalised grip strength <tspan fill="#6e6e6e" stroke="#6e6e6e" stroke-width="0.15" font-weight="normal">±</tspan> SEM</text>
<path d="M35.40,434.39 L46.56,434.97 L57.72,434.10 L68.88,435.83 L80.04,436.41 L91.20,435.83 L102.36,436.41 L113.52,442.48 L124.68,445.37" stroke="#222" stroke-width="0.8" fill="none" />
<path d="M35.40,433.81 L46.56,440.75 L57.72,445.37 L68.88,448.26 L80.04,444.79 L91.20,449.13 L102.36,452.60 L113.52,449.71 L124.68,452.88" stroke="#222" stroke-width="0.8" fill="none" stroke-dasharray="2 1.4" />
<path d="M35.40,418.20 L46.56,418.49 L57.72,419.94 L68.88,422.25 L80.04,420.52 L91.20,416.47 L102.36,419.36 L113.52,421.09 L124.68,416.18" stroke="#111" stroke-width="0.8" fill="none" />
<path d="M35.40,421.09 L46.56,423.41 L57.72,426.59 L68.88,427.45 L80.04,433.23 L91.20,426.87 L102.36,427.45 L113.52,433.23 L124.68,435.83" stroke="#111" stroke-width="0.8" fill="none" stroke-dasharray="2 1.4" />
<path d="M35.40,431.79 V436.99 M33.90,431.79 H36.90 M33.90,436.99 H36.90" stroke="#a00000" stroke-width="0.7" fill="none" />
<path d="M33.86,435.65 L36.94,435.65 L35.40,432.85 Z" fill="#a00000"/>
<path d="M46.56,432.37 V437.57 M45.06,432.37 H48.06 M45.06,437.57 H48.06" stroke="#a00000" stroke-width="0.7" fill="none" />
<path d="M45.02,436.23 L48.10,436.23 L46.56,433.43 Z" fill="#a00000"/>
<path d="M57.72,432.65 V435.54 M56.22,432.65 H59.22 M56.22,435.54 H59.22" stroke="#a00000" stroke-width="0.7" fill="none" />
<path d="M56.18,435.36 L59.26,435.36 L57.72,432.56 Z" fill="#a00000"/>
<path d="M68.88,435.25 V436.41 M67.38,435.25 H70.38 M67.38,436.41 H70.38" stroke="#a00000" stroke-width="0.7" fill="none" />
<path d="M67.34,437.09 L70.42,437.09 L68.88,434.29 Z" fill="#a00000"/>
<path d="M80.04,435.25 V437.57 M78.54,435.25 H81.54 M78.54,437.57 H81.54" stroke="#a00000" stroke-width="0.7" fill="none" />
<path d="M78.50,437.67 L81.58,437.67 L80.04,434.87 Z" fill="#a00000"/>
<path d="M91.20,434.97 V436.70 M89.70,434.97 H92.70 M89.70,436.70 H92.70" stroke="#a00000" stroke-width="0.7" fill="none" />
<path d="M89.66,437.09 L92.74,437.09 L91.20,434.29 Z" fill="#a00000"/>
<path d="M102.36,435.54 V437.28 M100.86,435.54 H103.86 M100.86,437.28 H103.86" stroke="#a00000" stroke-width="0.7" fill="none" />
<path d="M100.82,437.67 L103.90,437.67 L102.36,434.87 Z" fill="#a00000"/>
<path d="M113.52,440.75 V444.21 M112.02,440.75 H115.02 M112.02,444.21 H115.02" stroke="#a00000" stroke-width="0.7" fill="none" />
<path d="M111.98,443.74 L115.06,443.74 L113.52,440.94 Z" fill="#a00000"/>
<path d="M124.68,444.50 V446.24 M123.18,444.50 H126.18 M123.18,446.24 H126.18" stroke="#a00000" stroke-width="0.7" fill="none" />
<path d="M123.14,446.63 L126.22,446.63 L124.68,443.83 Z" fill="#a00000"/>
<path d="M35.40,431.79 V435.83 M33.90,431.79 H36.90 M33.90,435.83 H36.90" stroke="#a00000" stroke-width="0.7" fill="none" />
<path d="M33.86,432.55 L36.94,432.55 L35.40,435.35 Z" fill="#a00000"/>
<path d="M46.56,439.01 V442.48 M45.06,439.01 H48.06 M45.06,442.48 H48.06" stroke="#a00000" stroke-width="0.7" fill="none" />
<path d="M45.02,439.49 L48.10,439.49 L46.56,442.29 Z" fill="#a00000"/>
<path d="M57.72,444.50 V446.24 M56.22,444.50 H59.22 M56.22,446.24 H59.22" stroke="#a00000" stroke-width="0.7" fill="none" />
<path d="M56.18,444.11 L59.26,444.11 L57.72,446.91 Z" fill="#a00000"/>
<path d="M68.88,447.39 V449.13 M67.38,447.39 H70.38 M67.38,449.13 H70.38" stroke="#a00000" stroke-width="0.7" fill="none" />
<path d="M67.34,447.00 L70.42,447.00 L68.88,449.80 Z" fill="#a00000"/>
<path d="M80.04,444.21 V445.37 M78.54,444.21 H81.54 M78.54,445.37 H81.54" stroke="#a00000" stroke-width="0.7" fill="none" />
<path d="M78.50,443.53 L81.58,443.53 L80.04,446.33 Z" fill="#a00000"/>
<path d="M91.20,448.55 V449.71 M89.70,448.55 H92.70 M89.70,449.71 H92.70" stroke="#a00000" stroke-width="0.7" fill="none" />
<path d="M89.66,447.87 L92.74,447.87 L91.20,450.67 Z" fill="#a00000"/>
<path d="M102.36,452.02 V453.17 M100.86,452.02 H103.86 M100.86,453.17 H103.86" stroke="#a00000" stroke-width="0.7" fill="none" />
<path d="M100.82,451.34 L103.90,451.34 L102.36,454.14 Z" fill="#a00000"/>
<path d="M113.52,447.97 V451.44 M112.02,447.97 H115.02 M112.02,451.44 H115.02" stroke="#a00000" stroke-width="0.7" fill="none" />
<path d="M111.98,448.45 L115.06,448.45 L113.52,451.25 Z" fill="#a00000"/>
<path d="M124.68,451.44 V454.33 M123.18,451.44 H126.18 M123.18,454.33 H126.18" stroke="#a00000" stroke-width="0.7" fill="none" />
<path d="M123.14,451.62 L126.22,451.62 L124.68,454.42 Z" fill="#a00000"/>
<path d="M35.40,413.58 V422.83 M33.90,413.58 H36.90 M33.90,422.83 H36.90" stroke="#111" stroke-width="0.7" fill="none" />
<circle cx="35.40" cy="418.20" r="1.60" fill="#111"/>
<path d="M46.56,416.76 V420.23 M45.06,416.76 H48.06 M45.06,420.23 H48.06" stroke="#111" stroke-width="0.7" fill="none" />
<circle cx="46.56" cy="418.49" r="1.60" fill="#111"/>
<path d="M57.72,417.34 V422.54 M56.22,417.34 H59.22 M56.22,422.54 H59.22" stroke="#111" stroke-width="0.7" fill="none" />
<circle cx="57.72" cy="419.94" r="1.60" fill="#111"/>
<path d="M68.88,420.52 V423.98 M67.38,420.52 H70.38 M67.38,423.98 H70.38" stroke="#111" stroke-width="0.7" fill="none" />
<circle cx="68.88" cy="422.25" r="1.60" fill="#111"/>
<path d="M80.04,417.92 V423.12 M78.54,417.92 H81.54 M78.54,423.12 H81.54" stroke="#111" stroke-width="0.7" fill="none" />
<circle cx="80.04" cy="420.52" r="1.60" fill="#111"/>
<path d="M91.20,413.87 V419.07 M89.70,413.87 H92.70 M89.70,419.07 H92.70" stroke="#111" stroke-width="0.7" fill="none" />
<circle cx="91.20" cy="416.47" r="1.60" fill="#111"/>
<path d="M102.36,414.74 V423.98 M100.86,414.74 H103.86 M100.86,423.98 H103.86" stroke="#111" stroke-width="0.7" fill="none" />
<circle cx="102.36" cy="419.36" r="1.60" fill="#111"/>
<path d="M113.52,417.34 V424.85 M112.02,417.34 H115.02 M112.02,424.85 H115.02" stroke="#111" stroke-width="0.7" fill="none" />
<circle cx="113.52" cy="421.09" r="1.60" fill="#111"/>
<path d="M124.68,414.74 V417.63 M123.18,414.74 H126.18 M123.18,417.63 H126.18" stroke="#111" stroke-width="0.7" fill="none" />
<circle cx="124.68" cy="416.18" r="1.60" fill="#111"/>
<path d="M35.40,419.36 V422.83 M33.90,419.36 H36.90 M33.90,422.83 H36.90" stroke="#111" stroke-width="0.7" fill="none" />
<rect x="33.80" y="419.49" width="3.20" height="3.20" fill="#111"/>
<path d="M46.56,421.67 V425.14 M45.06,421.67 H48.06 M45.06,425.14 H48.06" stroke="#111" stroke-width="0.7" fill="none" />
<rect x="44.96" y="421.81" width="3.20" height="3.20" fill="#111"/>
<path d="M57.72,425.14 V428.03 M56.22,425.14 H59.22 M56.22,428.03 H59.22" stroke="#111" stroke-width="0.7" fill="none" />
<rect x="56.12" y="424.99" width="3.20" height="3.20" fill="#111"/>
<path d="M68.88,425.72 V429.19 M67.38,425.72 H70.38 M67.38,429.19 H70.38" stroke="#111" stroke-width="0.7" fill="none" />
<rect x="67.28" y="425.85" width="3.20" height="3.20" fill="#111"/>
<path d="M80.04,431.50 V434.97 M78.54,431.50 H81.54 M78.54,434.97 H81.54" stroke="#111" stroke-width="0.7" fill="none" />
<rect x="78.44" y="431.63" width="3.20" height="3.20" fill="#111"/>
<path d="M91.20,425.14 V428.61 M89.70,425.14 H92.70 M89.70,428.61 H92.70" stroke="#111" stroke-width="0.7" fill="none" />
<rect x="89.60" y="425.27" width="3.20" height="3.20" fill="#111"/>
<path d="M102.36,426.01 V428.90 M100.86,426.01 H103.86 M100.86,428.90 H103.86" stroke="#111" stroke-width="0.7" fill="none" />
<rect x="100.76" y="425.85" width="3.20" height="3.20" fill="#111"/>
<path d="M113.52,431.50 V434.97 M112.02,431.50 H115.02 M112.02,434.97 H115.02" stroke="#111" stroke-width="0.7" fill="none" />
<rect x="111.92" y="431.63" width="3.20" height="3.20" fill="#111"/>
<path d="M124.68,433.81 V437.86 M123.18,433.81 H126.18 M123.18,437.86 H126.18" stroke="#111" stroke-width="0.7" fill="none" />
<rect x="123.08" y="434.23" width="3.20" height="3.20" fill="#111"/>
<path d="M32.70,398.30 H129.80 M32.70,396.10 V400.50 M129.80,396.10 V400.50" stroke="#333" stroke-width="0.9" fill="none" />
<text x="80.10" y="396.00" font-size="4.6" font-weight="bold" fill="#333" stroke="#333" stroke-width="0.1" text-anchor="middle">##</text>
<path d="M56.40,406.10 H104.60 M56.40,403.90 V408.30 M104.60,403.90 V408.30" stroke="#555" stroke-width="1.0" fill="none" />
<text x="80.10" y="405.20" font-size="4.8" font-weight="bold" fill="#444" stroke="#444" stroke-width="0" text-anchor="middle">**</text>
<text x="80.10" y="415.20" font-size="5.2" font-weight="normal" fill="#333" stroke="#333" stroke-width="0.22" text-anchor="middle">$$</text>
<text x="113.60" y="415.20" font-size="5.2" font-weight="normal" fill="#333" stroke="#333" stroke-width="0.22" text-anchor="middle">$</text>
<text x="124.70" y="411.60" font-size="5.2" font-weight="normal" fill="#333" stroke="#333" stroke-width="0.22" text-anchor="middle">$</text>
<line x1="147.70" y1="401.60" x2="155.30" y2="401.60" stroke="#333" stroke-width="0.8" />
<circle cx="151.50" cy="401.60" r="1.65" fill="#111"/>
<text x="159.80" y="404.34" font-size="7.6" font-weight="normal" fill="#222" stroke="#222" stroke-width="0.22" textLength="18.80" lengthAdjust="spacingAndGlyphs">Wt+V</text>
<line x1="147.70" y1="413.60" x2="155.30" y2="413.60" stroke="#333" stroke-width="0.8" stroke-dasharray="1.5 1.1" />
<rect x="149.85" y="411.95" width="3.30" height="3.30" fill="#111"/>
<text x="159.80" y="416.34" font-size="7.6" font-weight="normal" fill="#222" stroke="#222" stroke-width="0.22" textLength="35.20" lengthAdjust="spacingAndGlyphs">Wt+CORT</text>
<line x1="147.70" y1="425.30" x2="155.30" y2="425.30" stroke="#333" stroke-width="0.8" />
<path d="M149.69,426.79 L153.31,426.79 L151.50,423.49 Z" fill="#a00000"/>
<text x="159.80" y="428.04" font-size="7.6" font-weight="normal" fill="#222" stroke="#222" stroke-width="0.22" textLength="30.20" lengthAdjust="spacingAndGlyphs">SOD1+V</text>
<line x1="147.70" y1="436.60" x2="155.30" y2="436.60" stroke="#333" stroke-width="0.8" stroke-dasharray="1.5 1.1" />
<path d="M149.69,435.12 L153.31,435.12 L151.50,438.42 Z" fill="#a00000"/>
<text x="159.80" y="439.34" font-size="7.6" font-weight="normal" fill="#222" stroke="#222" stroke-width="0.22" textLength="46.60" lengthAdjust="spacingAndGlyphs">SOD1+CORT</text>
</g>
<g id="panel-f">
<text x="240.20" y="377.80" font-size="17.5" font-weight="bold" fill="#111" stroke="#111" stroke-width="0.12">f</text>
<text x="304.50" y="386.30" font-size="8.6" font-weight="bold" fill="#111" stroke="#111" stroke-width="0.2" textLength="28.60" lengthAdjust="spacingAndGlyphs">Weight</text>
<path d="M265.2,397.6 V469.5 H371.5" stroke="#222" stroke-width="1.05" fill="none" />
<line x1="262.40" y1="461.40" x2="265.20" y2="461.40" stroke="#222" stroke-width="0.95" />
<text x="262.00" y="464.10" font-size="7.0" font-weight="bold" fill="#111" stroke="#111" stroke-width="0.14" text-anchor="end">18</text>
<line x1="262.40" y1="445.60" x2="265.20" y2="445.60" stroke="#222" stroke-width="0.95" />
<text x="262.00" y="448.30" font-size="7.0" font-weight="bold" fill="#111" stroke="#111" stroke-width="0.14" text-anchor="end">20</text>
<line x1="262.40" y1="429.80" x2="265.20" y2="429.80" stroke="#222" stroke-width="0.95" />
<text x="262.00" y="432.50" font-size="7.0" font-weight="bold" fill="#111" stroke="#111" stroke-width="0.14" text-anchor="end">22</text>
<line x1="262.40" y1="414.00" x2="265.20" y2="414.00" stroke="#222" stroke-width="0.95" />
<text x="262.00" y="416.70" font-size="7.0" font-weight="bold" fill="#111" stroke="#111" stroke-width="0.14" text-anchor="end">24</text>
<line x1="262.40" y1="398.20" x2="265.20" y2="398.20" stroke="#222" stroke-width="0.95" />
<text x="262.00" y="400.90" font-size="7.0" font-weight="bold" fill="#111" stroke="#111" stroke-width="0.14" text-anchor="end">26</text>
<line x1="273.20" y1="469.50" x2="273.20" y2="472.10" stroke="#222" stroke-width="0.95" />
<line x1="284.57" y1="469.50" x2="284.57" y2="472.10" stroke="#222" stroke-width="0.95" />
<line x1="295.94" y1="469.50" x2="295.94" y2="472.10" stroke="#222" stroke-width="0.95" />
<line x1="307.31" y1="469.50" x2="307.31" y2="472.10" stroke="#222" stroke-width="0.95" />
<line x1="318.68" y1="469.50" x2="318.68" y2="472.10" stroke="#222" stroke-width="0.95" />
<line x1="330.05" y1="469.50" x2="330.05" y2="472.10" stroke="#222" stroke-width="0.95" />
<line x1="341.42" y1="469.50" x2="341.42" y2="472.10" stroke="#222" stroke-width="0.95" />
<line x1="352.79" y1="469.50" x2="352.79" y2="472.10" stroke="#222" stroke-width="0.95" />
<line x1="364.16" y1="469.50" x2="364.16" y2="472.10" stroke="#222" stroke-width="0.95" />
<text x="275.60" y="476.80" font-size="7.0" font-weight="bold" fill="#111" stroke="#111" stroke-width="0.02" text-anchor="end" transform="rotate(-45 275.60 476.80)">Baseline</text>
<text x="286.97" y="476.80" font-size="7.0" font-weight="bold" fill="#111" stroke="#111" stroke-width="0.02" text-anchor="end" transform="rotate(-45 286.97 476.80)">77</text>
<text x="298.34" y="476.80" font-size="7.0" font-weight="bold" fill="#111" stroke="#111" stroke-width="0.02" text-anchor="end" transform="rotate(-45 298.34 476.80)">84</text>
<text x="309.71" y="476.80" font-size="7.0" font-weight="bold" fill="#111" stroke="#111" stroke-width="0.02" text-anchor="end" transform="rotate(-45 309.71 476.80)">91</text>
<text x="321.08" y="476.80" font-size="7.0" font-weight="bold" fill="#111" stroke="#111" stroke-width="0.02" text-anchor="end" transform="rotate(-45 321.08 476.80)">99</text>
<text x="332.45" y="476.80" font-size="7.0" font-weight="bold" fill="#111" stroke="#111" stroke-width="0.02" text-anchor="end" transform="rotate(-45 332.45 476.80)">106</text>
<text x="343.82" y="476.80" font-size="7.0" font-weight="bold" fill="#111" stroke="#111" stroke-width="0.02" text-anchor="end" transform="rotate(-45 343.82 476.80)">113</text>
<text x="355.19" y="476.80" font-size="7.0" font-weight="bold" fill="#111" stroke="#111" stroke-width="0.02" text-anchor="end" transform="rotate(-45 355.19 476.80)">120</text>
<text x="366.56" y="476.80" font-size="7.0" font-weight="bold" fill="#111" stroke="#111" stroke-width="0.02" text-anchor="end" transform="rotate(-45 366.56 476.80)">127</text>
<text x="309.60" y="496.80" font-size="7.8" font-weight="bold" fill="#111" stroke="#111" stroke-width="0.3" textLength="18.40" lengthAdjust="spacingAndGlyphs">Days</text>
<text x="250.20" y="465.00" font-size="7.96" font-weight="bold" fill="#111" stroke="#111" stroke-width="0.3" transform="rotate(-90 250.20 465.00)" textLength="64.80" lengthAdjust="spacingAndGlyphs">Weight (g) <tspan fill="#6e6e6e" stroke="#6e6e6e" stroke-width="0.15" font-weight="normal">±</tspan> SEM</text>
<path d="M273.20,455.47 L284.57,457.45 L295.94,453.89 L307.31,453.50 L318.68,453.10 L330.05,455.08 L341.42,455.08 L352.79,452.71 L364.16,451.92" stroke="#222" stroke-width="0.8" fill="none" />
<path d="M273.20,448.76 L284.57,444.81 L295.94,450.34 L307.31,446.00 L318.68,445.60 L330.05,444.41 L341.42,439.28 L352.79,440.07 L364.16,437.30" stroke="#222" stroke-width="0.8" fill="none" stroke-dasharray="2 1.4" />
<path d="M273.20,446.39 L284.57,447.97 L295.94,444.02 L307.31,443.62 L318.68,439.28 L330.05,440.46 L341.42,435.33 L352.79,435.33 L364.16,434.93" stroke="#111" stroke-width="0.8" fill="none" />
<path d="M273.20,440.46 L284.57,436.51 L295.94,438.09 L307.31,432.96 L318.68,431.38 L330.05,432.56 L341.42,429.01 L352.79,417.16 L364.16,419.92" stroke="#111" stroke-width="0.8" fill="none" stroke-dasharray="2 1.4" />
<path d="M273.20,451.52 V459.42 M271.70,451.52 H274.70 M271.70,459.42 H274.70" stroke="#a00000" stroke-width="0.7" fill="none" />
<path d="M271.66,456.73 L274.74,456.73 L273.20,453.93 Z" fill="#a00000"/>
<path d="M284.57,453.10 V461.79 M283.07,453.10 H286.07 M283.07,461.79 H286.07" stroke="#a00000" stroke-width="0.7" fill="none" />
<path d="M283.03,458.71 L286.11,458.71 L284.57,455.91 Z" fill="#a00000"/>
<path d="M295.94,449.94 V457.84 M294.44,449.94 H297.44 M294.44,457.84 H297.44" stroke="#a00000" stroke-width="0.7" fill="none" />
<path d="M294.40,455.15 L297.48,455.15 L295.94,452.35 Z" fill="#a00000"/>
<path d="M307.31,449.15 V457.84 M305.81,449.15 H308.81 M305.81,457.84 H308.81" stroke="#a00000" stroke-width="0.7" fill="none" />
<path d="M305.77,454.76 L308.85,454.76 L307.31,451.96 Z" fill="#a00000"/>
<path d="M318.68,449.55 V456.66 M317.18,449.55 H320.18 M317.18,456.66 H320.18" stroke="#a00000" stroke-width="0.7" fill="none" />
<path d="M317.14,454.36 L320.22,454.36 L318.68,451.56 Z" fill="#a00000"/>
<path d="M330.05,451.52 V458.63 M328.55,451.52 H331.55 M328.55,458.63 H331.55" stroke="#a00000" stroke-width="0.7" fill="none" />
<path d="M328.51,456.34 L331.59,456.34 L330.05,453.54 Z" fill="#a00000"/>
<path d="M341.42,451.92 V458.24 M339.92,451.92 H342.92 M339.92,458.24 H342.92" stroke="#a00000" stroke-width="0.7" fill="none" />
<path d="M339.88,456.34 L342.96,456.34 L341.42,453.54 Z" fill="#a00000"/>
<path d="M352.79,449.94 V455.47 M351.29,449.94 H354.29 M351.29,455.47 H354.29" stroke="#a00000" stroke-width="0.7" fill="none" />
<path d="M351.25,453.97 L354.33,453.97 L352.79,451.17 Z" fill="#a00000"/>
<path d="M364.16,449.55 V454.29 M362.66,449.55 H365.66 M362.66,454.29 H365.66" stroke="#a00000" stroke-width="0.7" fill="none" />
<path d="M362.62,453.18 L365.70,453.18 L364.16,450.38 Z" fill="#a00000"/>
<path d="M273.20,444.02 V453.50 M271.70,444.02 H274.70 M271.70,453.50 H274.70" stroke="#a00000" stroke-width="0.7" fill="none" />
<path d="M271.66,447.50 L274.74,447.50 L273.20,450.30 Z" fill="#a00000"/>
<path d="M284.57,440.86 V448.76 M283.07,440.86 H286.07 M283.07,448.76 H286.07" stroke="#a00000" stroke-width="0.7" fill="none" />
<path d="M283.03,443.55 L286.11,443.55 L284.57,446.35 Z" fill="#a00000"/>
<path d="M295.94,446.39 V454.29 M294.44,446.39 H297.44 M294.44,454.29 H297.44" stroke="#a00000" stroke-width="0.7" fill="none" />
<path d="M294.40,449.08 L297.48,449.08 L295.94,451.88 Z" fill="#a00000"/>
<path d="M307.31,441.65 V450.34 M305.81,441.65 H308.81 M305.81,450.34 H308.81" stroke="#a00000" stroke-width="0.7" fill="none" />
<path d="M305.77,444.74 L308.85,444.74 L307.31,447.54 Z" fill="#a00000"/>
<path d="M318.68,440.86 V450.34 M317.18,440.86 H320.18 M317.18,450.34 H320.18" stroke="#a00000" stroke-width="0.7" fill="none" />
<path d="M317.14,444.34 L320.22,444.34 L318.68,447.14 Z" fill="#a00000"/>
<path d="M330.05,439.28 V449.55 M328.55,439.28 H331.55 M328.55,449.55 H331.55" stroke="#a00000" stroke-width="0.7" fill="none" />
<path d="M328.51,443.15 L331.59,443.15 L330.05,445.95 Z" fill="#a00000"/>
<path d="M341.42,436.91 V441.65 M339.92,436.91 H342.92 M339.92,441.65 H342.92" stroke="#a00000" stroke-width="0.7" fill="none" />
<path d="M339.88,438.02 L342.96,438.02 L341.42,440.82 Z" fill="#a00000"/>
<path d="M352.79,436.51 V443.62 M351.29,436.51 H354.29 M351.29,443.62 H354.29" stroke="#a00000" stroke-width="0.7" fill="none" />
<path d="M351.25,438.81 L354.33,438.81 L352.79,441.61 Z" fill="#a00000"/>
<path d="M364.16,433.75 V440.86 M362.66,433.75 H365.66 M362.66,440.86 H365.66" stroke="#a00000" stroke-width="0.7" fill="none" />
<path d="M362.62,436.04 L365.70,436.04 L364.16,438.84 Z" fill="#a00000"/>
<path d="M273.20,442.44 V450.34 M271.70,442.44 H274.70 M271.70,450.34 H274.70" stroke="#111" stroke-width="0.7" fill="none" />
<circle cx="273.20" cy="446.39" r="1.60" fill="#111"/>
<path d="M284.57,443.62 V452.31 M283.07,443.62 H286.07 M283.07,452.31 H286.07" stroke="#111" stroke-width="0.7" fill="none" />
<circle cx="284.57" cy="447.97" r="1.60" fill="#111"/>
<path d="M295.94,440.07 V447.97 M294.44,440.07 H297.44 M294.44,447.97 H297.44" stroke="#111" stroke-width="0.7" fill="none" />
<circle cx="295.94" cy="444.02" r="1.60" fill="#111"/>
<path d="M307.31,439.28 V447.97 M305.81,439.28 H308.81 M305.81,447.97 H308.81" stroke="#111" stroke-width="0.7" fill="none" />
<circle cx="307.31" cy="443.62" r="1.60" fill="#111"/>
<path d="M318.68,434.54 V444.02 M317.18,434.54 H320.18 M317.18,444.02 H320.18" stroke="#111" stroke-width="0.7" fill="none" />
<circle cx="318.68" cy="439.28" r="1.60" fill="#111"/>
<path d="M330.05,435.72 V445.20 M328.55,435.72 H331.55 M328.55,445.20 H331.55" stroke="#111" stroke-width="0.7" fill="none" />
<circle cx="330.05" cy="440.46" r="1.60" fill="#111"/>
<path d="M341.42,430.98 V439.67 M339.92,430.98 H342.92 M339.92,439.67 H342.92" stroke="#111" stroke-width="0.7" fill="none" />
<circle cx="341.42" cy="435.33" r="1.60" fill="#111"/>
<path d="M352.79,434.14 V436.51 M351.29,434.14 H354.29 M351.29,436.51 H354.29" stroke="#111" stroke-width="0.7" fill="none" />
<circle cx="352.79" cy="435.33" r="1.60" fill="#111"/>
<path d="M364.16,430.19 V439.67 M362.66,430.19 H365.66 M362.66,439.67 H365.66" stroke="#111" stroke-width="0.7" fill="none" />
<circle cx="364.16" cy="434.93" r="1.60" fill="#111"/>
<path d="M273.20,437.31 V443.62 M271.70,437.31 H274.70 M271.70,443.62 H274.70" stroke="#111" stroke-width="0.7" fill="none" />
<rect x="271.60" y="438.86" width="3.20" height="3.20" fill="#111"/>
<path d="M284.57,434.14 V438.88 M283.07,434.14 H286.07 M283.07,438.88 H286.07" stroke="#111" stroke-width="0.7" fill="none" />
<rect x="282.97" y="434.91" width="3.20" height="3.20" fill="#111"/>
<path d="M295.94,434.54 V441.65 M294.44,434.54 H297.44 M294.44,441.65 H297.44" stroke="#111" stroke-width="0.7" fill="none" />
<rect x="294.34" y="436.49" width="3.20" height="3.20" fill="#111"/>
<path d="M307.31,429.01 V436.91 M305.81,429.01 H308.81 M305.81,436.91 H308.81" stroke="#111" stroke-width="0.7" fill="none" />
<rect x="305.71" y="431.36" width="3.20" height="3.20" fill="#111"/>
<path d="M318.68,426.25 V436.51 M317.18,426.25 H320.18 M317.18,436.51 H320.18" stroke="#111" stroke-width="0.7" fill="none" />
<rect x="317.08" y="429.78" width="3.20" height="3.20" fill="#111"/>
<path d="M330.05,427.43 V437.70 M328.55,427.43 H331.55 M328.55,437.70 H331.55" stroke="#111" stroke-width="0.7" fill="none" />
<rect x="328.45" y="430.96" width="3.20" height="3.20" fill="#111"/>
<path d="M341.42,421.90 V436.12 M339.92,421.90 H342.92 M339.92,436.12 H342.92" stroke="#111" stroke-width="0.7" fill="none" />
<rect x="339.82" y="427.41" width="3.20" height="3.20" fill="#111"/>
<path d="M352.79,409.26 V425.06 M351.29,409.26 H354.29 M351.29,425.06 H354.29" stroke="#111" stroke-width="0.7" fill="none" />
<rect x="351.19" y="415.56" width="3.20" height="3.20" fill="#111"/>
<path d="M364.16,412.81 V427.03 M362.66,412.81 H365.66 M362.66,427.03 H365.66" stroke="#111" stroke-width="0.7" fill="none" />
<rect x="362.56" y="418.32" width="3.20" height="3.20" fill="#111"/>
<path d="M317.60,401.30 H366.40 M317.60,398.90 V403.70 M366.40,398.90 V403.70" stroke="#333" stroke-width="1.0" fill="none" />
<text x="343.00" y="398.80" font-size="6.2" font-weight="normal" fill="#222" stroke="#222" stroke-width="0.25" text-anchor="middle" textLength="11.80" lengthAdjust="spacingAndGlyphs">%%</text>
<text x="353.10" y="407.80" font-size="5.8" font-weight="normal" fill="#333" stroke="#333" stroke-width="0.25" text-anchor="middle">¤¤</text>
<line x1="388.20" y1="404.30" x2="395.80" y2="404.30" stroke="#333" stroke-width="0.8" />
<circle cx="392.00" cy="404.30" r="1.65" fill="#111"/>
<text x="400.10" y="407.11" font-size="7.8" font-weight="normal" fill="#222" stroke="#222" stroke-width="0.22" textLength="19.90" lengthAdjust="spacingAndGlyphs">Wt+V</text>
<line x1="388.20" y1="416.00" x2="395.80" y2="416.00" stroke="#333" stroke-width="0.8" stroke-dasharray="1.5 1.1" />
<rect x="390.35" y="414.35" width="3.30" height="3.30" fill="#111"/>
<text x="400.10" y="418.81" font-size="7.8" font-weight="normal" fill="#222" stroke="#222" stroke-width="0.22" textLength="35.90" lengthAdjust="spacingAndGlyphs">Wt+CORT</text>
<line x1="388.20" y1="427.60" x2="395.80" y2="427.60" stroke="#333" stroke-width="0.8" />
<path d="M390.19,429.09 L393.81,429.09 L392.00,425.79 Z" fill="#a00000"/>
<text x="400.10" y="430.41" font-size="7.8" font-weight="normal" fill="#222" stroke="#222" stroke-width="0.22" textLength="31.60" lengthAdjust="spacingAndGlyphs">SOD1+V</text>
<line x1="388.20" y1="439.00" x2="395.80" y2="439.00" stroke="#333" stroke-width="0.8" stroke-dasharray="1.5 1.1" />
<path d="M390.19,437.51 L393.81,437.51 L392.00,440.81 Z" fill="#a00000"/>
<text x="400.10" y="441.81" font-size="7.8" font-weight="normal" fill="#222" stroke="#222" stroke-width="0.22" textLength="47.60" lengthAdjust="spacingAndGlyphs">SOD1+CORT</text>
</g>
<g id="panel-g">
<text x="470.60" y="377.60" font-size="17.5" font-weight="bold" fill="#111" stroke="#111" stroke-width="0.12">g</text>
<text x="535.50" y="386.40" font-size="8.6" font-weight="bold" fill="#111" stroke="#111" stroke-width="0.2" textLength="52.10" lengthAdjust="spacingAndGlyphs">Cylinder test</text>
<path d="M508.7,398.0 V469.3 H614.5" stroke="#222" stroke-width="1.05" fill="none" />
<line x1="505.90" y1="469.30" x2="508.70" y2="469.30" stroke="#222" stroke-width="0.95" />
<text x="505.50" y="472.00" font-size="7.0" font-weight="bold" fill="#111" stroke="#111" stroke-width="0.14" text-anchor="end">0</text>
<line x1="505.90" y1="451.60" x2="508.70" y2="451.60" stroke="#222" stroke-width="0.95" />
<text x="505.50" y="454.30" font-size="7.0" font-weight="bold" fill="#111" stroke="#111" stroke-width="0.14" text-anchor="end">10</text>
<line x1="505.90" y1="433.90" x2="508.70" y2="433.90" stroke="#222" stroke-width="0.95" />
<text x="505.50" y="436.60" font-size="7.0" font-weight="bold" fill="#111" stroke="#111" stroke-width="0.14" text-anchor="end">20</text>
<line x1="505.90" y1="416.20" x2="508.70" y2="416.20" stroke="#222" stroke-width="0.95" />
<text x="505.50" y="418.90" font-size="7.0" font-weight="bold" fill="#111" stroke="#111" stroke-width="0.14" text-anchor="end">30</text>
<line x1="505.90" y1="398.50" x2="508.70" y2="398.50" stroke="#222" stroke-width="0.95" />
<text x="505.50" y="401.20" font-size="7.0" font-weight="bold" fill="#111" stroke="#111" stroke-width="0.14" text-anchor="end">40</text>
<line x1="533.90" y1="469.30" x2="533.90" y2="471.70" stroke="#222" stroke-width="0.95" />
<line x1="588.80" y1="469.30" x2="588.80" y2="471.70" stroke="#222" stroke-width="0.95" />
<text x="533.90" y="479.20" font-size="7.1" font-weight="bold" fill="#111" stroke="#111" stroke-width="0.3" text-anchor="middle">Day 70</text>
<text x="588.80" y="479.20" font-size="7.1" font-weight="bold" fill="#111" stroke="#111" stroke-width="0.3" text-anchor="middle">Day 100</text>
<text x="483.00" y="475.60" font-size="7.8" font-weight="bold" fill="#111" stroke="#111" stroke-width="0.3" transform="rotate(-90 483.00 475.60)" textLength="85.70" lengthAdjust="spacingAndGlyphs">Number of rears <tspan fill="#6e6e6e" stroke="#6e6e6e" stroke-width="0.15" font-weight="normal">±</tspan> SEM</text>
<rect x="512.65" y="439.36" width="7.50" height="29.94" fill="#dcdcdc" stroke="#000" stroke-width="1.3"/>
<path d="M516.40,432.48 V445.94 M514.40,432.48 H518.40 M514.40,445.94 H518.40" stroke="#111" stroke-width="0.9" fill="none" />
<circle cx="516.24" cy="414.50" r="1.50" fill="#111"/>
<circle cx="514.64" cy="443.40" r="1.50" fill="#111"/>
<circle cx="517.53" cy="443.40" r="1.50" fill="#111"/>
<circle cx="514.31" cy="448.22" r="1.50" fill="#111"/>
<circle cx="518.65" cy="448.22" r="1.50" fill="#111"/>
<rect x="524.25" y="435.29" width="7.50" height="34.01" fill="url(#pg)" stroke="#000" stroke-width="1.3"/>
<path d="M528.00,431.95 V438.32 M526.00,431.95 H530.00 M526.00,438.32 H530.00" stroke="#111" stroke-width="0.9" fill="none" />
<rect x="524.06" y="423.76" width="3.00" height="3.00" fill="#111"/>
<rect x="529.19" y="425.04" width="3.00" height="3.00" fill="#111"/>
<rect x="524.06" y="430.66" width="3.00" height="3.00" fill="#111"/>
<rect x="528.87" y="430.66" width="3.00" height="3.00" fill="#111"/>
<rect x="526.46" y="434.20" width="3.00" height="3.00" fill="#111"/>
<rect x="526.79" y="443.03" width="3.00" height="3.00" fill="#111"/>
<rect x="526.79" y="448.33" width="3.00" height="3.00" fill="#111"/>
<rect x="536.35" y="441.13" width="7.50" height="28.17" fill="#9b0000" stroke="#000" stroke-width="1.3"/>
<path d="M540.10,437.26 V444.70 M538.10,437.26 H542.10 M538.10,444.70 H542.10" stroke="#111" stroke-width="0.9" fill="none" />
<path d="M538.20,424.68 L541.50,424.68 L539.85,421.68 Z" fill="#111"/>
<path d="M538.20,430.30 L541.50,430.30 L539.85,427.30 Z" fill="#111"/>
<path d="M536.27,445.56 L539.57,445.56 L537.92,442.56 Z" fill="#111"/>
<path d="M539.96,445.56 L543.26,445.56 L541.61,442.56 Z" fill="#111"/>
<path d="M538.20,447.97 L541.50,447.97 L539.85,444.97 Z" fill="#111"/>
<path d="M538.20,458.73 L541.50,458.73 L539.85,455.73 Z" fill="#111"/>
<rect x="548.15" y="450.33" width="7.50" height="18.97" fill="url(#pp)" stroke="#000" stroke-width="1.3"/>
<path d="M551.90,446.29 V454.08 M549.90,446.29 H553.90 M549.90,454.08 H553.90" stroke="#111" stroke-width="0.9" fill="none" />
<path d="M550.08,435.63 L553.38,435.63 L551.73,438.63 Z" fill="#111"/>
<path d="M547.51,441.25 L550.81,441.25 L549.16,444.25 Z" fill="#111"/>
<path d="M552.65,441.25 L555.95,441.25 L554.30,444.25 Z" fill="#111"/>
<path d="M550.08,444.78 L553.38,444.78 L551.73,447.78 Z" fill="#111"/>
<path d="M550.08,450.89 L553.38,450.89 L551.73,453.89 Z" fill="#111"/>
<path d="M550.08,458.92 L553.38,458.92 L551.73,461.92 Z" fill="#111"/>
<path d="M550.08,464.54 L553.38,464.54 L551.73,467.54 Z" fill="#111"/>
<rect x="567.45" y="444.14" width="7.50" height="25.16" fill="#dcdcdc" stroke="#000" stroke-width="1.3"/>
<path d="M571.20,439.92 V448.06 M569.20,439.92 H573.20 M569.20,448.06 H573.20" stroke="#111" stroke-width="0.9" fill="none" />
<circle cx="569.08" cy="434.25" r="1.50" fill="#111"/>
<circle cx="574.05" cy="435.70" r="1.50" fill="#111"/>
<circle cx="569.24" cy="447.74" r="1.50" fill="#111"/>
<circle cx="573.73" cy="447.74" r="1.50" fill="#111"/>
<circle cx="571.48" cy="453.52" r="1.50" fill="#111"/>
<rect x="579.25" y="449.45" width="7.50" height="19.85" fill="url(#pg)" stroke="#000" stroke-width="1.3"/>
<path d="M583.00,445.41 V453.19 M581.00,445.41 H585.00 M581.00,453.19 H585.00" stroke="#111" stroke-width="0.9" fill="none" />
<rect x="581.71" y="432.27" width="3.00" height="3.00" fill="#111"/>
<rect x="581.71" y="435.80" width="3.00" height="3.00" fill="#111"/>
<rect x="579.30" y="450.74" width="3.00" height="3.00" fill="#111"/>
<rect x="583.80" y="450.74" width="3.00" height="3.00" fill="#111"/>
<rect x="581.71" y="452.66" width="3.00" height="3.00" fill="#111"/>
<rect x="579.62" y="454.91" width="3.00" height="3.00" fill="#111"/>
<rect x="583.80" y="454.91" width="3.00" height="3.00" fill="#111"/>
<rect x="591.35" y="440.60" width="7.50" height="28.70" fill="#9b0000" stroke="#000" stroke-width="1.3"/>
<path d="M595.10,435.85 V445.05 M593.10,435.85 H597.10 M593.10,445.05 H597.10" stroke="#111" stroke-width="0.9" fill="none" />
<path d="M593.44,421.47 L596.74,421.47 L595.09,418.47 Z" fill="#111"/>
<path d="M593.44,433.51 L596.74,433.51 L595.09,430.51 Z" fill="#111"/>
<path d="M593.44,437.53 L596.74,437.53 L595.09,434.53 Z" fill="#111"/>
<path d="M591.68,442.35 L594.98,442.35 L593.33,439.35 Z" fill="#111"/>
<path d="M595.37,442.35 L598.67,442.35 L597.02,439.35 Z" fill="#111"/>
<path d="M593.44,450.05 L596.74,450.05 L595.09,447.05 Z" fill="#111"/>
<path d="M593.44,461.94 L596.74,461.94 L595.09,458.94 Z" fill="#111"/>
<rect x="603.15" y="461.49" width="7.50" height="7.81" fill="url(#pp)" stroke="#000" stroke-width="1.3"/>
<path d="M606.90,459.03 V463.64 M604.90,459.03 H608.90 M604.90,463.64 H608.90" stroke="#111" stroke-width="0.9" fill="none" />
<path d="M603.24,453.30 L606.54,453.30 L604.89,456.30 Z" fill="#111"/>
<path d="M607.41,453.30 L610.71,453.30 L609.06,456.30 Z" fill="#111"/>
<path d="M605.33,455.70 L608.63,455.70 L606.98,458.70 Z" fill="#111"/>
<path d="M605.33,460.84 L608.63,460.84 L606.98,463.84 Z" fill="#111"/>
<path d="M604.20,463.73 L607.50,463.73 L605.85,466.73 Z" fill="#111"/>
<path d="M606.45,465.34 L609.75,465.34 L608.10,468.34 Z" fill="#111"/>
<path d="M605.00,466.62 L608.30,466.62 L606.65,469.62 Z" fill="#111"/>
<path d="M553.50,394.80 H609.40 M553.50,392.40 V397.20 M609.40,392.40 V397.20" stroke="#8a8a8a" stroke-width="1.0" fill="none" />
<text x="580.60" y="395.00" font-size="6.0" font-weight="bold" fill="#222" stroke="#222" stroke-width="0.15" text-anchor="middle">*</text>
<path d="M528.60,403.20 H584.40 M528.60,400.80 V405.60 M584.40,400.80 V405.60" stroke="#8a8a8a" stroke-width="1.0" fill="none" />
<text x="556.60" y="403.40" font-size="6.0" font-weight="bold" fill="#222" stroke="#222" stroke-width="0.15" text-anchor="middle">*</text>
<path d="M514.60,411.10 H594.60 M514.60,408.50 V413.70 M594.60,408.50 V413.70" stroke="#444" stroke-width="1.3" fill="none" />
<text x="553.20" y="410.60" font-size="6.0" font-weight="bold" fill="#222" stroke="#222" stroke-width="0.15" text-anchor="middle">*</text>
<path d="M596.00,411.10 H608.60 M596.00,408.50 V413.70 M608.60,408.50 V413.70" stroke="#333" stroke-width="0.9" fill="none" />
<text x="602.00" y="411.60" font-size="6.0" font-weight="bold" fill="#222" stroke="#222" stroke-width="0.15" text-anchor="middle">**</text>
<circle cx="629.00" cy="404.40" r="1.80" fill="#111"/>
<text x="636.60" y="407.21" font-size="7.8" font-weight="normal" fill="#222" stroke="#222" stroke-width="0.22" textLength="19.90" lengthAdjust="spacingAndGlyphs">Wt+V</text>
<rect x="627.20" y="414.20" width="3.60" height="3.60" fill="#111"/>
<text x="636.60" y="418.81" font-size="7.8" font-weight="normal" fill="#222" stroke="#222" stroke-width="0.22" textLength="35.90" lengthAdjust="spacingAndGlyphs">Wt+CORT</text>
<path d="M627.24,429.24 L630.76,429.24 L629.00,426.04 Z" fill="#111"/>
<text x="636.60" y="430.61" font-size="7.8" font-weight="normal" fill="#222" stroke="#222" stroke-width="0.22" textLength="31.60" lengthAdjust="spacingAndGlyphs">SOD1+V</text>
<path d="M627.24,437.66 L630.76,437.66 L629.00,440.86 Z" fill="#111"/>
<text x="636.60" y="441.91" font-size="7.8" font-weight="normal" fill="#222" stroke="#222" stroke-width="0.22" textLength="47.60" lengthAdjust="spacingAndGlyphs">SOD1+CORT</text>
</g>
<g id="panel-h">
<text x="0.20" y="526.20" font-size="17.5" font-weight="bold" fill="#111" stroke="#111" stroke-width="0.12">h</text>
<text x="74.70" y="540.20" font-size="9.2" font-weight="bold" fill="#111" stroke="#111" stroke-width="0.2" textLength="31.60" lengthAdjust="spacingAndGlyphs">Y-maze</text>
<path d="M36.2,552.4 V625.5 H146.0" stroke="#222" stroke-width="1.15" fill="none" />
<line x1="33.40" y1="625.50" x2="36.20" y2="625.50" stroke="#222" stroke-width="1.05" />
<text x="32.60" y="628.00" font-size="7.0" font-weight="bold" fill="#111" stroke="#111" stroke-width="0.14" text-anchor="end">0.0</text>
<line x1="33.40" y1="607.40" x2="36.20" y2="607.40" stroke="#222" stroke-width="1.05" />
<text x="32.60" y="609.90" font-size="7.0" font-weight="bold" fill="#111" stroke="#111" stroke-width="0.14" text-anchor="end">0.2</text>
<line x1="33.40" y1="589.30" x2="36.20" y2="589.30" stroke="#222" stroke-width="1.05" />
<text x="32.60" y="591.80" font-size="7.0" font-weight="bold" fill="#111" stroke="#111" stroke-width="0.14" text-anchor="end">0.4</text>
<line x1="33.40" y1="571.20" x2="36.20" y2="571.20" stroke="#222" stroke-width="1.05" />
<text x="32.60" y="573.70" font-size="7.0" font-weight="bold" fill="#111" stroke="#111" stroke-width="0.14" text-anchor="end">0.6</text>
<line x1="33.40" y1="553.10" x2="36.20" y2="553.10" stroke="#222" stroke-width="1.05" />
<text x="32.60" y="555.60" font-size="7.0" font-weight="bold" fill="#111" stroke="#111" stroke-width="0.14" text-anchor="end">0.8</text>
<line x1="62.10" y1="625.50" x2="62.10" y2="627.90" stroke="#222" stroke-width="1.05" />
<line x1="118.40" y1="625.50" x2="118.40" y2="627.90" stroke="#222" stroke-width="1.05" />
<text x="62.10" y="635.80" font-size="7.1" font-weight="bold" fill="#111" stroke="#111" stroke-width="0.3" text-anchor="middle">Day 70</text>
<text x="118.40" y="635.80" font-size="7.1" font-weight="bold" fill="#111" stroke="#111" stroke-width="0.3" text-anchor="middle">Day 100</text>
<text x="17.90" y="609.60" font-size="8.0" font-weight="bold" fill="#111" stroke="#111" stroke-width="0.3" transform="rotate(-90 17.90 609.60)" textLength="42.70" lengthAdjust="spacingAndGlyphs">SAP <tspan fill="#6e6e6e" stroke="#6e6e6e" stroke-width="0.15" font-weight="normal">±</tspan> SEM</text>
<rect x="40.15" y="575.42" width="7.70" height="50.08" fill="#dcdcdc" stroke="#000" stroke-width="1.3"/>
<path d="M44.00,570.75 V579.80 M42.00,570.75 H46.00 M42.00,579.80 H46.00" stroke="#111" stroke-width="0.9" fill="none" />
<circle cx="44.23" cy="563.97" r="1.50" fill="#111"/>
<circle cx="44.23" cy="568.50" r="1.50" fill="#111"/>
<circle cx="44.23" cy="573.54" r="1.50" fill="#111"/>
<circle cx="44.23" cy="578.57" r="1.50" fill="#111"/>
<circle cx="44.23" cy="591.16" r="1.50" fill="#111"/>
<rect x="52.15" y="570.44" width="7.70" height="55.06" fill="url(#pg)" stroke="#000" stroke-width="1.3"/>
<path d="M56.00,568.03 V572.56 M54.00,568.03 H58.00 M54.00,572.56 H58.00" stroke="#111" stroke-width="0.9" fill="none" />
<rect x="54.99" y="562.30" width="3.00" height="3.00" fill="#111"/>
<rect x="56.67" y="565.83" width="3.00" height="3.00" fill="#111"/>
<rect x="52.81" y="568.68" width="3.00" height="3.00" fill="#111"/>
<rect x="56.16" y="570.36" width="3.00" height="3.00" fill="#111"/>
<rect x="54.48" y="572.88" width="3.00" height="3.00" fill="#111"/>
<rect x="54.48" y="577.07" width="3.00" height="3.00" fill="#111"/>
<rect x="64.25" y="574.06" width="7.70" height="51.44" fill="#9b0000" stroke="#000" stroke-width="1.3"/>
<path d="M68.10,570.29 V577.53 M66.10,570.29 H70.10 M66.10,577.53 H70.10" stroke="#111" stroke-width="0.9" fill="none" />
<path d="M66.59,558.44 L69.89,558.44 L68.24,555.44 Z" fill="#111"/>
<path d="M68.60,572.37 L71.90,572.37 L70.25,569.37 Z" fill="#111"/>
<path d="M66.59,574.89 L69.89,574.89 L68.24,571.89 Z" fill="#111"/>
<path d="M65.25,577.41 L68.55,577.41 L66.90,574.41 Z" fill="#111"/>
<path d="M67.76,577.41 L71.06,577.41 L69.41,574.41 Z" fill="#111"/>
<path d="M66.59,594.70 L69.89,594.70 L68.24,591.70 Z" fill="#111"/>
<rect x="76.35" y="570.44" width="7.70" height="55.06" fill="url(#pp)" stroke="#000" stroke-width="1.3"/>
<path d="M80.20,566.67 V573.91 M78.20,566.67 H82.20 M78.20,573.91 H82.20" stroke="#111" stroke-width="0.9" fill="none" />
<path d="M78.67,559.60 L81.97,559.60 L80.32,562.60 Z" fill="#111"/>
<path d="M78.67,562.96 L81.97,562.96 L80.32,565.96 Z" fill="#111"/>
<path d="M78.67,567.15 L81.97,567.15 L80.32,570.15 Z" fill="#111"/>
<path d="M77.33,571.35 L80.63,571.35 L78.98,574.35 Z" fill="#111"/>
<path d="M80.35,571.35 L83.65,571.35 L82.00,574.35 Z" fill="#111"/>
<path d="M76.66,575.55 L79.96,575.55 L78.31,578.55 Z" fill="#111"/>
<path d="M81.03,575.55 L84.33,575.55 L82.68,578.55 Z" fill="#111"/>
<rect x="96.95" y="569.99" width="7.70" height="55.51" fill="#dcdcdc" stroke="#000" stroke-width="1.3"/>
<path d="M100.80,566.22 V573.46 M98.80,566.22 H102.80 M98.80,573.46 H102.80" stroke="#111" stroke-width="0.9" fill="none" />
<circle cx="100.47" cy="557.59" r="1.50" fill="#111"/>
<circle cx="98.45" cy="571.02" r="1.50" fill="#111"/>
<circle cx="102.65" cy="571.02" r="1.50" fill="#111"/>
<circle cx="102.65" cy="574.38" r="1.50" fill="#111"/>
<circle cx="100.47" cy="578.57" r="1.50" fill="#111"/>
<rect x="109.15" y="574.52" width="7.70" height="50.98" fill="url(#pg)" stroke="#000" stroke-width="1.3"/>
<path d="M113.00,572.56 V576.18 M111.00,572.56 H115.00 M111.00,576.18 H115.00" stroke="#111" stroke-width="0.9" fill="none" />
<rect x="111.22" y="563.64" width="3.00" height="3.00" fill="#111"/>
<rect x="112.06" y="568.34" width="3.00" height="3.00" fill="#111"/>
<rect x="109.88" y="571.20" width="3.00" height="3.00" fill="#111"/>
<rect x="112.40" y="572.04" width="3.00" height="3.00" fill="#111"/>
<rect x="109.04" y="574.56" width="3.00" height="3.00" fill="#111"/>
<rect x="111.22" y="575.40" width="3.00" height="3.00" fill="#111"/>
<rect x="113.24" y="575.40" width="3.00" height="3.00" fill="#111"/>
<rect x="121.05" y="575.42" width="7.70" height="50.08" fill="#9b0000" stroke="#000" stroke-width="1.3"/>
<path d="M124.90,572.11 V578.44 M122.90,572.11 H126.90 M122.90,578.44 H126.90" stroke="#111" stroke-width="0.9" fill="none" />
<path d="M123.33,563.64 L126.63,563.64 L124.98,560.64 Z" fill="#111"/>
<path d="M123.33,569.01 L126.63,569.01 L124.98,566.01 Z" fill="#111"/>
<path d="M125.68,572.87 L128.98,572.87 L127.33,569.87 Z" fill="#111"/>
<path d="M122.32,576.57 L125.62,576.57 L123.97,573.57 Z" fill="#111"/>
<path d="M121.48,581.60 L124.78,581.60 L123.13,578.60 Z" fill="#111"/>
<path d="M125.34,582.44 L128.64,582.44 L126.99,579.44 Z" fill="#111"/>
<path d="M123.33,587.48 L126.63,587.48 L124.98,584.48 Z" fill="#111"/>
<rect x="133.15" y="577.68" width="7.70" height="47.82" fill="url(#pp)" stroke="#000" stroke-width="1.3"/>
<path d="M137.00,576.18 V578.89 M135.00,576.18 H139.00 M135.00,578.89 H139.00" stroke="#111" stroke-width="0.9" fill="none" />
<path d="M134.07,572.19 L137.37,572.19 L135.72,575.19 Z" fill="#111"/>
<path d="M136.59,573.87 L139.89,573.87 L138.24,576.87 Z" fill="#111"/>
<path d="M134.07,574.87 L137.37,574.87 L135.72,577.87 Z" fill="#111"/>
<path d="M133.23,576.38 L136.53,576.38 L134.88,579.38 Z" fill="#111"/>
<path d="M137.43,576.38 L140.73,576.38 L139.08,579.38 Z" fill="#111"/>
<path d="M135.41,578.06 L138.71,578.06 L137.06,581.06 Z" fill="#111"/>
<path d="M135.41,582.26 L138.71,582.26 L137.06,585.26 Z" fill="#111"/>
<path d="M79.70,551.70 H139.70 M79.70,549.50 V553.90 M139.70,549.50 V553.90" stroke="#333" stroke-width="0.9" fill="none" />
<text x="109.80" y="550.60" font-size="6.0" font-weight="bold" fill="#222" stroke="#222" stroke-width="0.15" text-anchor="middle">**</text>
<circle cx="165.40" cy="559.30" r="1.80" fill="#111"/>
<text x="173.80" y="562.14" font-size="7.9" font-weight="normal" fill="#222" stroke="#222" stroke-width="0.22" textLength="20.30" lengthAdjust="spacingAndGlyphs">Wt+V</text>
<rect x="163.60" y="569.50" width="3.60" height="3.60" fill="#111"/>
<text x="173.80" y="574.14" font-size="7.9" font-weight="normal" fill="#222" stroke="#222" stroke-width="0.22" textLength="36.60" lengthAdjust="spacingAndGlyphs">Wt+CORT</text>
<path d="M163.64,584.44 L167.16,584.44 L165.40,581.24 Z" fill="#111"/>
<text x="173.80" y="585.84" font-size="7.9" font-weight="normal" fill="#222" stroke="#222" stroke-width="0.22" textLength="32.20" lengthAdjust="spacingAndGlyphs">SOD1+V</text>
<path d="M163.64,593.46 L167.16,593.46 L165.40,596.66 Z" fill="#111"/>
<text x="173.80" y="597.74" font-size="7.9" font-weight="normal" fill="#222" stroke="#222" stroke-width="0.22" textLength="48.60" lengthAdjust="spacingAndGlyphs">SOD1+CORT</text>
</g>
<g id="panel-i">
<text x="240.60" y="525.90" font-size="17.5" font-weight="bold" fill="#111" stroke="#111" stroke-width="0.12">i</text>
<text x="273.50" y="538.50" font-size="9.1" font-weight="bold" fill="#111" stroke="#111" stroke-width="0.2" textLength="109.80" lengthAdjust="spacingAndGlyphs">S-Corticosterone day 100</text>
<path d="M272.4,550.2 V624.5 H384.0" stroke="#3a3a3a" stroke-width="1.15" fill="none" />
<line x1="269.40" y1="624.50" x2="272.40" y2="624.50" stroke="#3a3a3a" stroke-width="1.05" />
<text x="268.60" y="626.90" font-size="6.8" font-weight="bold" fill="#111" stroke="#111" stroke-width="0.22" text-anchor="end">0</text>
<line x1="269.40" y1="599.97" x2="272.40" y2="599.97" stroke="#3a3a3a" stroke-width="1.05" />
<text x="268.60" y="602.37" font-size="6.8" font-weight="bold" fill="#111" stroke="#111" stroke-width="0.22" text-anchor="end">500</text>
<line x1="269.40" y1="575.43" x2="272.40" y2="575.43" stroke="#3a3a3a" stroke-width="1.05" />
<text x="268.60" y="577.83" font-size="6.8" font-weight="bold" fill="#111" stroke="#111" stroke-width="0.22" text-anchor="end">1000</text>
<line x1="269.40" y1="550.90" x2="272.40" y2="550.90" stroke="#3a3a3a" stroke-width="1.05" />
<text x="268.60" y="553.30" font-size="6.8" font-weight="bold" fill="#111" stroke="#111" stroke-width="0.22" text-anchor="end">1500</text>
<line x1="290.50" y1="624.50" x2="290.50" y2="627.70" stroke="#3a3a3a" stroke-width="1.05" />
<text x="292.50" y="632.50" font-size="7.2" font-weight="bold" fill="#111" stroke="#111" stroke-width="0.12" text-anchor="end" transform="rotate(-45 292.50 632.50)">Wt+V</text>
<line x1="315.55" y1="624.50" x2="315.55" y2="627.70" stroke="#3a3a3a" stroke-width="1.05" />
<text x="317.55" y="632.50" font-size="7.2" font-weight="bold" fill="#111" stroke="#111" stroke-width="0.12" text-anchor="end" transform="rotate(-45 317.55 632.50)">Wt+CORT</text>
<line x1="341.13" y1="624.50" x2="341.13" y2="627.70" stroke="#3a3a3a" stroke-width="1.05" />
<text x="343.13" y="632.50" font-size="7.2" font-weight="bold" fill="#111" stroke="#111" stroke-width="0.12" text-anchor="end" transform="rotate(-45 343.13 632.50)">SOD1+V</text>
<line x1="366.36" y1="624.50" x2="366.36" y2="627.70" stroke="#3a3a3a" stroke-width="1.05" />
<text x="368.36" y="632.50" font-size="7.2" font-weight="bold" fill="#111" stroke="#111" stroke-width="0.12" text-anchor="end" transform="rotate(-45 368.36 632.50)">SOD1+CORT</text>
<text x="249.60" y="612.80" font-size="8.4" font-weight="bold" fill="#111" stroke="#111" stroke-width="0.3" transform="rotate(-90 249.60 612.80)" textLength="52.60" lengthAdjust="spacingAndGlyphs">ng/mL <tspan fill="#6e6e6e" stroke="#6e6e6e" stroke-width="0.15" font-weight="normal">±</tspan> SEM</text>
<rect x="282.55" y="615.13" width="15.90" height="9.37" fill="#dcdcdc" stroke="#000" stroke-width="1.3"/>
<path d="M290.50,612.35 V617.08 M286.50,612.35 H294.50 M286.50,617.08 H294.50" stroke="#111" stroke-width="0.9" fill="none" />
<circle cx="290.50" cy="609.73" r="1.60" fill="#111"/>
<circle cx="290.50" cy="613.58" r="1.60" fill="#111"/>
<circle cx="287.52" cy="619.71" r="1.60" fill="#111"/>
<circle cx="293.65" cy="616.56" r="1.60" fill="#111"/>
<rect x="307.60" y="601.82" width="15.90" height="22.68" fill="url(#pg)" stroke="#000" stroke-width="1.3"/>
<path d="M315.55,597.46 V606.22 M311.55,597.46 H319.55 M311.55,606.22 H319.55" stroke="#111" stroke-width="0.9" fill="none" />
<rect x="313.95" y="591.83" width="3.20" height="3.20" fill="#111"/>
<rect x="313.95" y="600.94" width="3.20" height="3.20" fill="#111"/>
<rect x="313.95" y="606.73" width="3.20" height="3.20" fill="#111"/>
<rect x="333.18" y="603.57" width="15.90" height="20.93" fill="#9b0000" stroke="#000" stroke-width="1.3"/>
<path d="M341.13,597.46 V610.08 M337.13,597.46 H345.13 M337.13,610.08 H345.13" stroke="#111" stroke-width="0.9" fill="none" />
<path d="M339.37,593.12 L342.89,593.12 L341.13,589.92 Z" fill="#111"/>
<path d="M336.57,611.87 L340.09,611.87 L338.33,608.67 Z" fill="#111"/>
<path d="M342.17,610.99 L345.69,610.99 L343.93,607.79 Z" fill="#111"/>
<rect x="358.41" y="580.44" width="15.90" height="44.06" fill="url(#pp)" stroke="#000" stroke-width="1.3"/>
<path d="M366.36,577.32 V582.92 M362.36,577.32 H370.36 M362.36,582.92 H370.36" stroke="#111" stroke-width="0.9" fill="none" />
<path d="M364.60,572.72 L368.12,572.72 L366.36,575.92 Z" fill="#111"/>
<path d="M361.97,581.48 L365.49,581.48 L363.73,584.68 Z" fill="#111"/>
<path d="M367.75,580.61 L371.27,580.61 L369.51,583.81 Z" fill="#111"/>
<path d="M290.50,549.64 H369.33 M290.50,546.64 V552.64 M369.33,546.64 V552.64" stroke="#222" stroke-width="1.0" fill="none" />
<text x="328.69" y="549.71" font-size="6.2" font-weight="bold" fill="#222" stroke="#222" stroke-width="0.15" text-anchor="middle">**</text>
<path d="M313.45,557.52 H368.98 M313.45,554.52 V560.52 M368.98,554.52 V560.52" stroke="#444" stroke-width="1.0" fill="none" />
<text x="341.83" y="557.77" font-size="6.2" font-weight="bold" fill="#222" stroke="#222" stroke-width="0.15" text-anchor="middle">*</text>
<path d="M340.08,565.75 H368.98 M340.08,562.75 V568.75 M368.98,562.75 V568.75" stroke="#8a8a8a" stroke-width="1.3" fill="none" />
<text x="354.09" y="566.18" font-size="6.2" font-weight="bold" fill="#222" stroke="#222" stroke-width="0.15" text-anchor="middle">*</text>
</g>
<g id="panel-j">
<text x="470.00" y="526.00" font-size="17.5" font-weight="bold" fill="#111" stroke="#111" stroke-width="0.12">j</text>
<text x="519.90" y="539.90" font-size="9.0" font-weight="bold" fill="#111" stroke="#111" stroke-width="0.2" textLength="78.70" lengthAdjust="spacingAndGlyphs">s-Glucose day 100</text>
<path d="M503.5,552.0 V625.4 H614.0" stroke="#3a3a3a" stroke-width="1.15" fill="none" />
<line x1="500.50" y1="625.40" x2="503.50" y2="625.40" stroke="#3a3a3a" stroke-width="1.05" />
<text x="499.70" y="627.80" font-size="6.8" font-weight="bold" fill="#111" stroke="#111" stroke-width="0.22" text-anchor="end">0</text>
<line x1="500.50" y1="601.10" x2="503.50" y2="601.10" stroke="#3a3a3a" stroke-width="1.05" />
<text x="499.70" y="603.50" font-size="6.8" font-weight="bold" fill="#111" stroke="#111" stroke-width="0.22" text-anchor="end">5</text>
<line x1="500.50" y1="576.80" x2="503.50" y2="576.80" stroke="#3a3a3a" stroke-width="1.05" />
<text x="499.70" y="579.20" font-size="6.8" font-weight="bold" fill="#111" stroke="#111" stroke-width="0.22" text-anchor="end">10</text>
<line x1="500.50" y1="552.50" x2="503.50" y2="552.50" stroke="#3a3a3a" stroke-width="1.05" />
<text x="499.70" y="554.90" font-size="6.8" font-weight="bold" fill="#111" stroke="#111" stroke-width="0.22" text-anchor="end">15</text>
<line x1="520.76" y1="625.40" x2="520.76" y2="628.60" stroke="#3a3a3a" stroke-width="1.05" />
<text x="523.36" y="635.40" font-size="8.0" font-weight="bold" fill="#111" stroke="#111" stroke-width="0.12" text-anchor="end" transform="rotate(-45 523.36 635.40)">Wt+V</text>
<line x1="546.43" y1="625.40" x2="546.43" y2="628.60" stroke="#3a3a3a" stroke-width="1.05" />
<text x="549.03" y="635.40" font-size="8.0" font-weight="bold" fill="#111" stroke="#111" stroke-width="0.12" text-anchor="end" transform="rotate(-45 549.03 635.40)">Wt+CORT</text>
<line x1="571.74" y1="625.40" x2="571.74" y2="628.60" stroke="#3a3a3a" stroke-width="1.05" />
<text x="574.34" y="635.40" font-size="8.0" font-weight="bold" fill="#111" stroke="#111" stroke-width="0.12" text-anchor="end" transform="rotate(-45 574.34 635.40)">SOD1+V</text>
<line x1="596.97" y1="625.40" x2="596.97" y2="628.60" stroke="#3a3a3a" stroke-width="1.05" />
<text x="599.57" y="635.40" font-size="8.0" font-weight="bold" fill="#111" stroke="#111" stroke-width="0.12" text-anchor="end" transform="rotate(-45 599.57 635.40)">SOD1+CORT</text>
<text x="488.40" y="615.10" font-size="8.4" font-weight="normal" fill="#111" stroke="#111" stroke-width="0.4" transform="rotate(-90 488.40 615.10)" textLength="54.90" lengthAdjust="spacingAndGlyphs">mmol/L <tspan fill="#6e6e6e" stroke="#6e6e6e" stroke-width="0.15" font-weight="normal">±</tspan> SEM</text>
<rect x="512.81" y="610.58" width="15.90" height="14.82" fill="#dcdcdc" stroke="#000" stroke-width="1.3"/>
<path d="M520.76,609.20 V611.48 M516.76,609.20 H524.76 M516.76,611.48 H524.76" stroke="#111" stroke-width="0.9" fill="none" />
<circle cx="518.04" cy="608.33" r="1.60" fill="#111"/>
<circle cx="523.65" cy="610.08" r="1.60" fill="#111"/>
<circle cx="518.04" cy="612.18" r="1.60" fill="#111"/>
<circle cx="521.02" cy="610.08" r="1.60" fill="#111"/>
<rect x="538.48" y="591.31" width="15.90" height="34.09" fill="url(#pg)" stroke="#000" stroke-width="1.3"/>
<path d="M546.43,583.80 V598.69 M542.43,583.80 H550.43 M542.43,598.69 H550.43" stroke="#111" stroke-width="0.9" fill="none" />
<rect x="541.85" y="580.97" width="3.20" height="3.20" fill="#111"/>
<rect x="547.80" y="581.67" width="3.20" height="3.20" fill="#111"/>
<rect x="544.83" y="604.97" width="3.20" height="3.20" fill="#111"/>
<rect x="563.79" y="592.71" width="15.90" height="32.69" fill="#9b0000" stroke="#000" stroke-width="1.3"/>
<path d="M571.74,587.65 V597.81 M567.74,587.65 H575.74 M567.74,597.81 H575.74" stroke="#111" stroke-width="0.9" fill="none" />
<path d="M569.89,580.86 L573.41,580.86 L571.65,577.66 Z" fill="#111"/>
<path d="M566.92,600.13 L570.44,600.13 L568.68,596.93 Z" fill="#111"/>
<path d="M573.05,598.90 L576.57,598.90 L574.81,595.70 Z" fill="#111"/>
<path d="M569.89,596.63 L573.41,596.63 L571.65,593.43 Z" fill="#111"/>
<rect x="589.02" y="579.57" width="15.90" height="45.83" fill="url(#pp)" stroke="#000" stroke-width="1.3"/>
<path d="M596.97,574.16 V584.67 M592.97,574.16 H600.97 M592.97,584.67 H600.97" stroke="#111" stroke-width="0.9" fill="none" />
<path d="M595.12,567.99 L598.64,567.99 L596.88,571.19 Z" fill="#111"/>
<path d="M595.12,579.73 L598.64,579.73 L596.88,582.93 Z" fill="#111"/>
<path d="M595.12,585.86 L598.64,585.86 L596.88,589.06 Z" fill="#111"/>
<path d="M517.34,559.62 H598.46 M517.34,556.62 V562.62 M598.46,556.62 V562.62" stroke="#333" stroke-width="1.0" fill="none" />
<text x="559.04" y="558.29" font-size="6.2" font-weight="bold" fill="#222" stroke="#222" stroke-width="0.15" text-anchor="middle">*</text>
</g>
<g id="panel-k">
<text x="0.20" y="684.90" font-size="17.5" font-weight="bold" fill="#111" stroke="#111" stroke-width="0.12">k</text>
<text x="58.40" y="691.80" font-size="8.9" font-weight="bold" fill="#111" stroke="#111" stroke-width="0.2" textLength="41.60" lengthAdjust="spacingAndGlyphs"><tspan font-style="italic">Cpt1a</tspan> s.c.</text>
<path d="M25.2,702.8 V775.3 H133.1" stroke="#3a3a3a" stroke-width="1.15" fill="none" />
<line x1="22.20" y1="775.30" x2="25.20" y2="775.30" stroke="#3a3a3a" stroke-width="1.05" />
<text x="21.40" y="777.70" font-size="6.8" font-weight="bold" fill="#111" stroke="#111" stroke-width="0.22" text-anchor="end">0.0</text>
<line x1="22.20" y1="757.35" x2="25.20" y2="757.35" stroke="#3a3a3a" stroke-width="1.05" />
<text x="21.40" y="759.75" font-size="6.8" font-weight="bold" fill="#111" stroke="#111" stroke-width="0.22" text-anchor="end">0.5</text>
<line x1="22.20" y1="739.40" x2="25.20" y2="739.40" stroke="#3a3a3a" stroke-width="1.05" />
<text x="21.40" y="741.80" font-size="6.8" font-weight="bold" fill="#111" stroke="#111" stroke-width="0.22" text-anchor="end">1.0</text>
<line x1="22.20" y1="721.45" x2="25.20" y2="721.45" stroke="#3a3a3a" stroke-width="1.05" />
<text x="21.40" y="723.85" font-size="6.8" font-weight="bold" fill="#111" stroke="#111" stroke-width="0.22" text-anchor="end">1.5</text>
<line x1="22.20" y1="703.50" x2="25.20" y2="703.50" stroke="#3a3a3a" stroke-width="1.05" />
<text x="21.40" y="705.90" font-size="6.8" font-weight="bold" fill="#111" stroke="#111" stroke-width="0.22" text-anchor="end">2.0</text>
<line x1="41.97" y1="775.30" x2="41.97" y2="778.50" stroke="#3a3a3a" stroke-width="1.05" />
<text x="44.57" y="785.30" font-size="8.0" font-weight="bold" fill="#111" stroke="#111" stroke-width="0.12" text-anchor="end" transform="rotate(-45 44.57 785.30)">Wt+V</text>
<line x1="66.85" y1="775.30" x2="66.85" y2="778.50" stroke="#3a3a3a" stroke-width="1.05" />
<text x="69.45" y="785.30" font-size="8.0" font-weight="bold" fill="#111" stroke="#111" stroke-width="0.12" text-anchor="end" transform="rotate(-45 69.45 785.30)">Wt+CORT</text>
<line x1="91.73" y1="775.30" x2="91.73" y2="778.50" stroke="#3a3a3a" stroke-width="1.05" />
<text x="94.33" y="785.30" font-size="8.0" font-weight="bold" fill="#111" stroke="#111" stroke-width="0.12" text-anchor="end" transform="rotate(-45 94.33 785.30)">SOD1+V</text>
<line x1="116.34" y1="775.30" x2="116.34" y2="778.50" stroke="#3a3a3a" stroke-width="1.05" />
<text x="118.94" y="785.30" font-size="8.0" font-weight="bold" fill="#111" stroke="#111" stroke-width="0.12" text-anchor="end" transform="rotate(-45 118.94 785.30)">SOD1+CORT</text>
<text x="7.50" y="784.90" font-size="7.9" font-weight="bold" fill="#111" stroke="#111" stroke-width="0.3" transform="rotate(-90 7.50 784.90)" textLength="93.50" lengthAdjust="spacingAndGlyphs">Mean fold change <tspan fill="#6e6e6e" stroke="#6e6e6e" stroke-width="0.15" font-weight="normal">±</tspan> SEM</text>
<rect x="34.02" y="740.17" width="15.90" height="35.13" fill="#dcdcdc" stroke="#000" stroke-width="1.3"/>
<path d="M41.97,737.05 V742.65 M37.97,737.05 H45.97 M37.97,742.65 H45.97" stroke="#111" stroke-width="0.9" fill="none" />
<circle cx="41.97" cy="733.54" r="1.60" fill="#111"/>
<circle cx="41.97" cy="737.57" r="1.60" fill="#111"/>
<circle cx="39.17" cy="744.05" r="1.60" fill="#111"/>
<circle cx="44.78" cy="743.18" r="1.60" fill="#111"/>
<rect x="58.90" y="738.07" width="15.90" height="37.23" fill="url(#pg)" stroke="#000" stroke-width="1.3"/>
<path d="M66.85,731.79 V743.18 M62.85,731.79 H70.85 M62.85,743.18 H70.85" stroke="#111" stroke-width="0.9" fill="none" />
<rect x="65.25" y="725.81" width="3.20" height="3.20" fill="#111"/>
<rect x="65.25" y="736.32" width="3.20" height="3.20" fill="#111"/>
<rect x="65.25" y="745.96" width="3.20" height="3.20" fill="#111"/>
<rect x="83.78" y="751.21" width="15.90" height="24.09" fill="#9b0000" stroke="#000" stroke-width="1.3"/>
<path d="M91.73,747.56 V754.22 M87.73,747.56 H95.73 M87.73,754.22 H95.73" stroke="#111" stroke-width="0.9" fill="none" />
<path d="M89.97,745.84 L93.49,745.84 L91.73,742.64 Z" fill="#111"/>
<path d="M89.97,750.75 L93.49,750.75 L91.73,747.55 Z" fill="#111"/>
<path d="M89.97,760.39 L93.49,760.39 L91.73,757.19 Z" fill="#111"/>
<rect x="108.39" y="729.66" width="15.90" height="45.64" fill="url(#pp)" stroke="#000" stroke-width="1.3"/>
<path d="M116.34,724.78 V733.89 M112.34,724.78 H120.34 M112.34,733.89 H120.34" stroke="#111" stroke-width="0.9" fill="none" />
<path d="M114.49,718.09 L118.01,718.09 L116.25,721.29 Z" fill="#111"/>
<path d="M114.49,721.59 L118.01,721.59 L116.25,724.79 Z" fill="#111"/>
<path d="M114.49,733.50 L118.01,733.50 L116.25,736.70 Z" fill="#111"/>
<path d="M114.49,737.01 L118.01,737.01 L116.25,740.21 Z" fill="#111"/>
<path d="M87.52,712.87 H115.38 M87.52,709.87 V715.87 M115.38,709.87 V715.87" stroke="#333" stroke-width="1.0" fill="none" />
<text x="101.71" y="711.54" font-size="6.2" font-weight="bold" fill="#222" stroke="#222" stroke-width="0.15" text-anchor="middle">*</text>
</g>
<g id="panel-l">
<text x="241.00" y="684.40" font-size="17.5" font-weight="bold" fill="#111" stroke="#111" stroke-width="0.12">l</text>
<text x="299.20" y="691.80" font-size="8.9" font-weight="bold" fill="#111" stroke="#111" stroke-width="0.2" textLength="39.80" lengthAdjust="spacingAndGlyphs"><tspan font-style="italic">CD68</tspan> s.c.</text>
<path d="M265.4,702.8 V775.3 H372.8" stroke="#3a3a3a" stroke-width="1.15" fill="none" />
<line x1="262.40" y1="775.30" x2="265.40" y2="775.30" stroke="#3a3a3a" stroke-width="1.05" />
<text x="261.60" y="777.70" font-size="6.8" font-weight="bold" fill="#111" stroke="#111" stroke-width="0.22" text-anchor="end">0</text>
<line x1="262.40" y1="757.42" x2="265.40" y2="757.42" stroke="#3a3a3a" stroke-width="1.05" />
<text x="261.60" y="759.82" font-size="6.8" font-weight="bold" fill="#111" stroke="#111" stroke-width="0.22" text-anchor="end">5</text>
<line x1="262.40" y1="739.55" x2="265.40" y2="739.55" stroke="#3a3a3a" stroke-width="1.05" />
<text x="261.60" y="741.95" font-size="6.8" font-weight="bold" fill="#111" stroke="#111" stroke-width="0.22" text-anchor="end">10</text>
<line x1="262.40" y1="721.67" x2="265.40" y2="721.67" stroke="#3a3a3a" stroke-width="1.05" />
<text x="261.60" y="724.07" font-size="6.8" font-weight="bold" fill="#111" stroke="#111" stroke-width="0.22" text-anchor="end">15</text>
<line x1="262.40" y1="703.80" x2="265.40" y2="703.80" stroke="#3a3a3a" stroke-width="1.05" />
<text x="261.60" y="706.20" font-size="6.8" font-weight="bold" fill="#111" stroke="#111" stroke-width="0.22" text-anchor="end">20</text>
<line x1="281.72" y1="775.30" x2="281.72" y2="778.50" stroke="#3a3a3a" stroke-width="1.05" />
<text x="284.32" y="785.30" font-size="8.0" font-weight="bold" fill="#111" stroke="#111" stroke-width="0.12" text-anchor="end" transform="rotate(-45 284.32 785.30)">Wt+V</text>
<line x1="306.43" y1="775.30" x2="306.43" y2="778.50" stroke="#3a3a3a" stroke-width="1.05" />
<text x="309.03" y="785.30" font-size="8.0" font-weight="bold" fill="#111" stroke="#111" stroke-width="0.12" text-anchor="end" transform="rotate(-45 309.03 785.30)">Wt+CORT</text>
<line x1="331.22" y1="775.30" x2="331.22" y2="778.50" stroke="#3a3a3a" stroke-width="1.05" />
<text x="333.82" y="785.30" font-size="8.0" font-weight="bold" fill="#111" stroke="#111" stroke-width="0.12" text-anchor="end" transform="rotate(-45 333.82 785.30)">SOD1+V</text>
<line x1="356.01" y1="775.30" x2="356.01" y2="778.50" stroke="#3a3a3a" stroke-width="1.05" />
<text x="358.61" y="785.30" font-size="8.0" font-weight="bold" fill="#111" stroke="#111" stroke-width="0.12" text-anchor="end" transform="rotate(-45 358.61 785.30)">SOD1+CORT</text>
<text x="249.60" y="784.90" font-size="7.9" font-weight="bold" fill="#111" stroke="#111" stroke-width="0.3" transform="rotate(-90 249.60 784.90)" textLength="93.50" lengthAdjust="spacingAndGlyphs">Mean fold change <tspan fill="#6e6e6e" stroke="#6e6e6e" stroke-width="0.15" font-weight="normal">±</tspan> SEM</text>
<rect x="273.77" y="772.23" width="15.90" height="3.07" fill="#dcdcdc" stroke="#000" stroke-width="1.3"/>
<path d="M281.72,771.03 V773.14 M277.72,771.03 H285.72 M277.72,773.14 H285.72" stroke="#111" stroke-width="0.9" fill="none" />
<circle cx="275.42" cy="772.96" r="1.60" fill="#111"/>
<circle cx="281.72" cy="770.68" r="1.60" fill="#111"/>
<circle cx="288.03" cy="771.73" r="1.60" fill="#111"/>
<rect x="298.48" y="768.21" width="15.90" height="7.09" fill="url(#pg)" stroke="#000" stroke-width="1.3"/>
<path d="M306.43,766.83 V769.28 M302.43,766.83 H310.43 M302.43,769.28 H310.43" stroke="#111" stroke-width="0.9" fill="none" />
<rect x="298.34" y="768.73" width="3.20" height="3.20" fill="#111"/>
<rect x="304.83" y="765.75" width="3.20" height="3.20" fill="#111"/>
<rect x="311.48" y="763.48" width="3.20" height="3.20" fill="#111"/>
<rect x="307.45" y="767.86" width="3.20" height="3.20" fill="#111"/>
<rect x="323.27" y="759.27" width="15.90" height="16.03" fill="#9b0000" stroke="#000" stroke-width="1.3"/>
<path d="M331.22,756.32 V761.57 M327.22,756.32 H335.22 M327.22,761.57 H335.22" stroke="#111" stroke-width="0.9" fill="none" />
<path d="M329.37,756.36 L332.89,756.36 L331.13,753.16 Z" fill="#111"/>
<path d="M329.37,759.16 L332.89,759.16 L331.13,755.96 Z" fill="#111"/>
<path d="M329.37,766.52 L332.89,766.52 L331.13,763.32 Z" fill="#111"/>
<rect x="348.06" y="740.35" width="15.90" height="34.95" fill="url(#pp)" stroke="#000" stroke-width="1.3"/>
<path d="M356.01,731.44 V748.43 M352.01,731.44 H360.01 M352.01,748.43 H360.01" stroke="#111" stroke-width="0.9" fill="none" />
<path d="M354.25,713.36 L357.77,713.36 L356.01,716.56 Z" fill="#111"/>
<path d="M354.25,741.74 L357.77,741.74 L356.01,744.94 Z" fill="#111"/>
<path d="M354.25,746.12 L357.77,746.12 L356.01,749.32 Z" fill="#111"/>
<path d="M354.25,752.25 L357.77,752.25 L356.01,755.45 Z" fill="#111"/>
<path d="M279.45,704.64 H356.71 M279.45,701.64 V707.64 M356.71,701.64 V707.64" stroke="#8a8a8a" stroke-width="1.0" fill="none" />
<text x="319.04" y="704.88" font-size="6.2" font-weight="bold" fill="#222" stroke="#222" stroke-width="0.15" text-anchor="middle">**</text>
<path d="M305.55,711.64 H356.01 M305.55,708.64 V714.64 M356.01,708.64 V714.64" stroke="#222" stroke-width="1.1" fill="none" />
<text x="330.08" y="712.07" font-size="6.2" font-weight="bold" fill="#222" stroke="#222" stroke-width="0.15" text-anchor="middle">*</text>
</g>
<g id="panel-m">
<text x="471.20" y="684.30" font-size="17.5" font-weight="bold" fill="#111" stroke="#111" stroke-width="0.12">m</text>
<text x="538.60" y="691.80" font-size="8.9" font-weight="bold" fill="#111" stroke="#111" stroke-width="0.2" textLength="38.50" lengthAdjust="spacingAndGlyphs"><tspan font-style="italic">Nox2</tspan> s.c.</text>
<path d="M504.2,702.8 V775.3 H611.7" stroke="#3a3a3a" stroke-width="1.15" fill="none" />
<line x1="501.20" y1="775.30" x2="504.20" y2="775.30" stroke="#3a3a3a" stroke-width="1.05" />
<text x="500.40" y="777.70" font-size="6.8" font-weight="bold" fill="#111" stroke="#111" stroke-width="0.22" text-anchor="end">0</text>
<line x1="501.20" y1="761.00" x2="504.20" y2="761.00" stroke="#3a3a3a" stroke-width="1.05" />
<text x="500.40" y="763.40" font-size="6.8" font-weight="bold" fill="#111" stroke="#111" stroke-width="0.22" text-anchor="end">1</text>
<line x1="501.20" y1="746.70" x2="504.20" y2="746.70" stroke="#3a3a3a" stroke-width="1.05" />
<text x="500.40" y="749.10" font-size="6.8" font-weight="bold" fill="#111" stroke="#111" stroke-width="0.22" text-anchor="end">2</text>
<line x1="501.20" y1="732.40" x2="504.20" y2="732.40" stroke="#3a3a3a" stroke-width="1.05" />
<text x="500.40" y="734.80" font-size="6.8" font-weight="bold" fill="#111" stroke="#111" stroke-width="0.22" text-anchor="end">3</text>
<line x1="501.20" y1="718.10" x2="504.20" y2="718.10" stroke="#3a3a3a" stroke-width="1.05" />
<text x="500.40" y="720.50" font-size="6.8" font-weight="bold" fill="#111" stroke="#111" stroke-width="0.22" text-anchor="end">4</text>
<line x1="501.20" y1="703.80" x2="504.20" y2="703.80" stroke="#3a3a3a" stroke-width="1.05" />
<text x="500.40" y="706.20" font-size="6.8" font-weight="bold" fill="#111" stroke="#111" stroke-width="0.22" text-anchor="end">5</text>
<line x1="520.41" y1="775.30" x2="520.41" y2="778.50" stroke="#3a3a3a" stroke-width="1.05" />
<text x="523.01" y="785.30" font-size="8.0" font-weight="bold" fill="#111" stroke="#111" stroke-width="0.12" text-anchor="end" transform="rotate(-45 523.01 785.30)">Wt+V</text>
<line x1="545.29" y1="775.30" x2="545.29" y2="778.50" stroke="#3a3a3a" stroke-width="1.05" />
<text x="547.89" y="785.30" font-size="8.0" font-weight="bold" fill="#111" stroke="#111" stroke-width="0.12" text-anchor="end" transform="rotate(-45 547.89 785.30)">Wt+CORT</text>
<line x1="570.08" y1="775.30" x2="570.08" y2="778.50" stroke="#3a3a3a" stroke-width="1.05" />
<text x="572.68" y="785.30" font-size="8.0" font-weight="bold" fill="#111" stroke="#111" stroke-width="0.12" text-anchor="end" transform="rotate(-45 572.68 785.30)">SOD1+V</text>
<line x1="594.95" y1="775.30" x2="594.95" y2="778.50" stroke="#3a3a3a" stroke-width="1.05" />
<text x="597.55" y="785.30" font-size="8.0" font-weight="bold" fill="#111" stroke="#111" stroke-width="0.12" text-anchor="end" transform="rotate(-45 597.55 785.30)">SOD1+CORT</text>
<text x="492.00" y="784.90" font-size="7.9" font-weight="bold" fill="#111" stroke="#111" stroke-width="0.3" transform="rotate(-90 492.00 784.90)" textLength="93.50" lengthAdjust="spacingAndGlyphs">Mean fold change <tspan fill="#6e6e6e" stroke="#6e6e6e" stroke-width="0.15" font-weight="normal">±</tspan> SEM</text>
<rect x="512.46" y="761.45" width="15.90" height="13.85" fill="#dcdcdc" stroke="#000" stroke-width="1.3"/>
<path d="M520.41,758.33 V763.58 M516.41,758.33 H524.41 M516.41,763.58 H524.41" stroke="#111" stroke-width="0.9" fill="none" />
<circle cx="513.67" cy="758.33" r="1.60" fill="#111"/>
<circle cx="520.50" cy="758.33" r="1.60" fill="#111"/>
<circle cx="527.51" cy="758.33" r="1.60" fill="#111"/>
<circle cx="520.50" cy="769.19" r="1.60" fill="#111"/>
<rect x="537.34" y="764.43" width="15.90" height="10.87" fill="url(#pg)" stroke="#000" stroke-width="1.3"/>
<path d="M545.29,761.48 V766.21 M541.29,761.48 H549.29 M541.29,766.21 H549.29" stroke="#111" stroke-width="0.9" fill="none" />
<rect x="543.60" y="755.85" width="3.20" height="3.20" fill="#111"/>
<rect x="540.97" y="761.63" width="3.20" height="3.20" fill="#111"/>
<rect x="545.70" y="764.08" width="3.20" height="3.20" fill="#111"/>
<rect x="543.60" y="767.76" width="3.20" height="3.20" fill="#111"/>
<rect x="562.13" y="733.60" width="15.90" height="41.70" fill="#9b0000" stroke="#000" stroke-width="1.3"/>
<path d="M570.08,726.44 V740.28 M566.08,726.44 H574.08 M566.08,740.28 H574.08" stroke="#111" stroke-width="0.9" fill="none" />
<path d="M568.32,719.47 L571.84,719.47 L570.08,716.27 Z" fill="#111"/>
<path d="M568.32,731.73 L571.84,731.73 L570.08,728.53 Z" fill="#111"/>
<path d="M568.32,736.64 L571.84,736.64 L570.08,733.44 Z" fill="#111"/>
<path d="M568.32,752.41 L571.84,752.41 L570.08,749.21 Z" fill="#111"/>
<rect x="587.00" y="731.85" width="15.90" height="43.45" fill="url(#pp)" stroke="#000" stroke-width="1.3"/>
<path d="M594.95,724.16 V739.05 M590.95,724.16 H598.95 M590.95,739.05 H598.95" stroke="#111" stroke-width="0.9" fill="none" />
<path d="M592.84,708.36 L596.36,708.36 L594.60,711.56 Z" fill="#111"/>
<path d="M590.22,734.46 L593.74,734.46 L591.98,737.66 Z" fill="#111"/>
<path d="M595.82,734.99 L599.34,734.99 L597.58,738.19 Z" fill="#111"/>
<path d="M592.84,741.99 L596.36,741.99 L594.60,745.19 Z" fill="#111"/>
<path d="M540.64,698.23 H594.78 M540.64,695.23 V701.23 M594.78,695.23 V701.23" stroke="#333" stroke-width="1.0" fill="none" />
<text x="567.97" y="698.66" font-size="6.2" font-weight="bold" fill="#222" stroke="#222" stroke-width="0.15" text-anchor="middle">**</text>
<path d="M516.99,705.42 H594.78 M516.99,702.42 V708.42 M594.78,702.42 V708.42" stroke="#222" stroke-width="1.0" fill="none" />
<text x="555.19" y="704.96" font-size="6.2" font-weight="bold" fill="#222" stroke="#222" stroke-width="0.15" text-anchor="middle">**</text>
<path d="M516.99,711.55 H570.95 M516.99,708.55 V714.55 M570.95,708.55 V714.55" stroke="#222" stroke-width="1.2" fill="none" />
<text x="544.32" y="711.44" font-size="6.2" font-weight="bold" fill="#222" stroke="#222" stroke-width="0.15" text-anchor="middle">**</text>
<path d="M540.64,718.03 H570.95 M540.64,715.03 V721.03 M570.95,715.03 V721.03" stroke="#222" stroke-width="1.1" fill="none" />
<text x="555.19" y="718.98" font-size="6.2" font-weight="bold" fill="#222" stroke="#222" stroke-width="0.15" text-anchor="middle">**</text>
</g>
<g id="panel-n">
<text x="0.40" y="838.20" font-size="17.5" font-weight="bold" fill="#111" stroke="#111" stroke-width="0.12">n</text>
<text x="58.90" y="850.00" font-size="9.0" font-weight="bold" fill="#111" stroke="#111" stroke-width="0.2" textLength="41.10" lengthAdjust="spacingAndGlyphs"><tspan font-style="italic">Cpt1b</tspan> t.a.</text>
<path d="M25.2,861.6 V933.5 H133.1" stroke="#3a3a3a" stroke-width="1.15" fill="none" />
<line x1="22.20" y1="933.50" x2="25.20" y2="933.50" stroke="#3a3a3a" stroke-width="1.05" />
<text x="21.40" y="935.90" font-size="6.8" font-weight="bold" fill="#111" stroke="#111" stroke-width="0.22" text-anchor="end">0.0</text>
<line x1="22.20" y1="919.20" x2="25.20" y2="919.20" stroke="#3a3a3a" stroke-width="1.05" />
<text x="21.40" y="921.60" font-size="6.8" font-weight="bold" fill="#111" stroke="#111" stroke-width="0.22" text-anchor="end">0.5</text>
<line x1="22.20" y1="904.90" x2="25.20" y2="904.90" stroke="#3a3a3a" stroke-width="1.05" />
<text x="21.40" y="907.30" font-size="6.8" font-weight="bold" fill="#111" stroke="#111" stroke-width="0.22" text-anchor="end">1.0</text>
<line x1="22.20" y1="890.60" x2="25.20" y2="890.60" stroke="#3a3a3a" stroke-width="1.05" />
<text x="21.40" y="893.00" font-size="6.8" font-weight="bold" fill="#111" stroke="#111" stroke-width="0.22" text-anchor="end">1.5</text>
<line x1="22.20" y1="876.30" x2="25.20" y2="876.30" stroke="#3a3a3a" stroke-width="1.05" />
<text x="21.40" y="878.70" font-size="6.8" font-weight="bold" fill="#111" stroke="#111" stroke-width="0.22" text-anchor="end">2.0</text>
<line x1="22.20" y1="862.00" x2="25.20" y2="862.00" stroke="#3a3a3a" stroke-width="1.05" />
<text x="21.40" y="864.40" font-size="6.8" font-weight="bold" fill="#111" stroke="#111" stroke-width="0.22" text-anchor="end">2.5</text>
<line x1="41.97" y1="933.50" x2="41.97" y2="936.70" stroke="#3a3a3a" stroke-width="1.05" />
<text x="44.57" y="943.50" font-size="8.0" font-weight="bold" fill="#111" stroke="#111" stroke-width="0.12" text-anchor="end" transform="rotate(-45 44.57 943.50)">Wt+V</text>
<line x1="66.85" y1="933.50" x2="66.85" y2="936.70" stroke="#3a3a3a" stroke-width="1.05" />
<text x="69.45" y="943.50" font-size="8.0" font-weight="bold" fill="#111" stroke="#111" stroke-width="0.12" text-anchor="end" transform="rotate(-45 69.45 943.50)">Wt+CORT</text>
<line x1="91.73" y1="933.50" x2="91.73" y2="936.70" stroke="#3a3a3a" stroke-width="1.05" />
<text x="94.33" y="943.50" font-size="8.0" font-weight="bold" fill="#111" stroke="#111" stroke-width="0.12" text-anchor="end" transform="rotate(-45 94.33 943.50)">SOD1+V</text>
<line x1="116.34" y1="933.50" x2="116.34" y2="936.70" stroke="#3a3a3a" stroke-width="1.05" />
<text x="118.94" y="943.50" font-size="8.0" font-weight="bold" fill="#111" stroke="#111" stroke-width="0.12" text-anchor="end" transform="rotate(-45 118.94 943.50)">SOD1+CORT</text>
<text x="7.50" y="943.40" font-size="7.9" font-weight="bold" fill="#111" stroke="#111" stroke-width="0.3" transform="rotate(-90 7.50 943.40)" textLength="93.50" lengthAdjust="spacingAndGlyphs">Mean fold change <tspan fill="#6e6e6e" stroke="#6e6e6e" stroke-width="0.15" font-weight="normal">±</tspan> SEM</text>
<rect x="34.02" y="905.34" width="15.90" height="28.16" fill="#dcdcdc" stroke="#000" stroke-width="1.3"/>
<path d="M41.97,897.30 V912.54 M37.97,897.30 H45.97 M37.97,912.54 H45.97" stroke="#111" stroke-width="0.9" fill="none" />
<circle cx="41.97" cy="884.69" r="1.60" fill="#111"/>
<circle cx="41.97" cy="904.84" r="1.60" fill="#111"/>
<circle cx="41.97" cy="912.54" r="1.60" fill="#111"/>
<circle cx="41.97" cy="917.80" r="1.60" fill="#111"/>
<rect x="58.90" y="899.38" width="15.90" height="34.12" fill="url(#pg)" stroke="#000" stroke-width="1.3"/>
<path d="M66.85,891.52 V906.06 M62.85,891.52 H70.85 M62.85,906.06 H70.85" stroke="#111" stroke-width="0.9" fill="none" />
<rect x="65.25" y="882.91" width="3.20" height="3.20" fill="#111"/>
<rect x="65.25" y="889.92" width="3.20" height="3.20" fill="#111"/>
<rect x="65.25" y="899.56" width="3.20" height="3.20" fill="#111"/>
<rect x="65.25" y="916.73" width="3.20" height="3.20" fill="#111"/>
<rect x="83.78" y="909.72" width="15.90" height="23.78" fill="#9b0000" stroke="#000" stroke-width="1.3"/>
<path d="M91.73,903.61 V914.47 M87.73,903.61 H95.73 M87.73,914.47 H95.73" stroke="#111" stroke-width="0.9" fill="none" />
<path d="M89.97,900.49 L93.49,900.49 L91.73,897.29 Z" fill="#111"/>
<path d="M89.97,914.86 L93.49,914.86 L91.73,911.66 Z" fill="#111"/>
<path d="M89.97,918.01 L93.49,918.01 L91.73,914.81 Z" fill="#111"/>
<rect x="108.39" y="890.44" width="15.90" height="43.06" fill="url(#pp)" stroke="#000" stroke-width="1.3"/>
<path d="M116.34,878.03 V901.33 M112.34,878.03 H120.34 M112.34,901.33 H120.34" stroke="#111" stroke-width="0.9" fill="none" />
<path d="M114.49,871.86 L118.01,871.86 L116.25,875.06 Z" fill="#111"/>
<path d="M114.49,880.97 L118.01,880.97 L116.25,884.17 Z" fill="#111"/>
<path d="M114.49,911.10 L118.01,911.10 L116.25,914.30 Z" fill="#111"/>
</g>
<g id="panel-o">
<text x="240.60" y="838.20" font-size="17.5" font-weight="bold" fill="#111" stroke="#111" stroke-width="0.12">o</text>
<text x="299.70" y="850.00" font-size="8.9" font-weight="bold" fill="#111" stroke="#111" stroke-width="0.2" textLength="38.10" lengthAdjust="spacingAndGlyphs"><tspan font-style="italic">CD68</tspan> t.a.</text>
<path d="M265.4,860.9 V932.6 H371.6" stroke="#3a3a3a" stroke-width="1.15" fill="none" />
<line x1="262.40" y1="932.60" x2="265.40" y2="932.60" stroke="#3a3a3a" stroke-width="1.05" />
<text x="261.60" y="935.00" font-size="6.8" font-weight="bold" fill="#111" stroke="#111" stroke-width="0.22" text-anchor="end">0</text>
<line x1="262.40" y1="908.93" x2="265.40" y2="908.93" stroke="#3a3a3a" stroke-width="1.05" />
<text x="261.60" y="911.33" font-size="6.8" font-weight="bold" fill="#111" stroke="#111" stroke-width="0.22" text-anchor="end">2</text>
<line x1="262.40" y1="885.27" x2="265.40" y2="885.27" stroke="#3a3a3a" stroke-width="1.05" />
<text x="261.60" y="887.67" font-size="6.8" font-weight="bold" fill="#111" stroke="#111" stroke-width="0.22" text-anchor="end">4</text>
<line x1="262.40" y1="861.60" x2="265.40" y2="861.60" stroke="#3a3a3a" stroke-width="1.05" />
<text x="261.60" y="864.00" font-size="6.8" font-weight="bold" fill="#111" stroke="#111" stroke-width="0.22" text-anchor="end">6</text>
<line x1="281.72" y1="932.60" x2="281.72" y2="935.80" stroke="#3a3a3a" stroke-width="1.05" />
<text x="284.32" y="942.60" font-size="8.0" font-weight="bold" fill="#111" stroke="#111" stroke-width="0.12" text-anchor="end" transform="rotate(-45 284.32 942.60)">Wt+V</text>
<line x1="306.43" y1="932.60" x2="306.43" y2="935.80" stroke="#3a3a3a" stroke-width="1.05" />
<text x="309.03" y="942.60" font-size="8.0" font-weight="bold" fill="#111" stroke="#111" stroke-width="0.12" text-anchor="end" transform="rotate(-45 309.03 942.60)">Wt+CORT</text>
<line x1="330.95" y1="932.60" x2="330.95" y2="935.80" stroke="#3a3a3a" stroke-width="1.05" />
<text x="333.55" y="942.60" font-size="8.0" font-weight="bold" fill="#111" stroke="#111" stroke-width="0.12" text-anchor="end" transform="rotate(-45 333.55 942.60)">SOD1+V</text>
<line x1="355.66" y1="932.60" x2="355.66" y2="935.80" stroke="#3a3a3a" stroke-width="1.05" />
<text x="358.26" y="942.60" font-size="8.0" font-weight="bold" fill="#111" stroke="#111" stroke-width="0.12" text-anchor="end" transform="rotate(-45 358.26 942.60)">SOD1+CORT</text>
<text x="253.40" y="942.90" font-size="7.9" font-weight="bold" fill="#111" stroke="#111" stroke-width="0.3" transform="rotate(-90 253.40 942.90)" textLength="93.50" lengthAdjust="spacingAndGlyphs">Mean fold change <tspan fill="#6e6e6e" stroke="#6e6e6e" stroke-width="0.15" font-weight="normal">±</tspan> SEM</text>
<rect x="273.77" y="921.10" width="15.90" height="11.50" fill="#dcdcdc" stroke="#000" stroke-width="1.3"/>
<path d="M281.72,915.35 V926.21 M277.72,915.35 H285.72 M277.72,926.21 H285.72" stroke="#111" stroke-width="0.9" fill="none" />
<circle cx="281.72" cy="910.09" r="1.60" fill="#111"/>
<circle cx="278.92" cy="927.08" r="1.60" fill="#111"/>
<circle cx="284.53" cy="925.68" r="1.60" fill="#111"/>
<rect x="298.48" y="929.86" width="15.90" height="2.74" fill="url(#pg)" stroke="#000" stroke-width="1.3"/>
<path d="M306.43,928.84 V931.46 M302.43,928.84 H310.43 M302.43,931.46 H310.43" stroke="#111" stroke-width="0.9" fill="none" />
<rect x="301.85" y="926.01" width="3.20" height="3.20" fill="#111"/>
<rect x="304.83" y="928.11" width="3.20" height="3.20" fill="#111"/>
<rect x="307.98" y="928.64" width="3.20" height="3.20" fill="#111"/>
<rect x="301.85" y="929.34" width="3.20" height="3.20" fill="#111"/>
<rect x="323.00" y="895.35" width="15.90" height="37.25" fill="#9b0000" stroke="#000" stroke-width="1.3"/>
<path d="M330.95,887.32 V902.21 M326.95,887.32 H334.95 M326.95,902.21 H334.95" stroke="#111" stroke-width="0.9" fill="none" />
<path d="M329.19,875.97 L332.71,875.97 L330.95,872.77 Z" fill="#111"/>
<path d="M329.19,896.11 L332.71,896.11 L330.95,892.91 Z" fill="#111"/>
<path d="M326.57,907.85 L330.09,907.85 L328.33,904.65 Z" fill="#111"/>
<path d="M332.17,907.15 L335.69,907.15 L333.93,903.95 Z" fill="#111"/>
<rect x="347.71" y="890.44" width="15.90" height="42.16" fill="url(#pp)" stroke="#000" stroke-width="1.3"/>
<path d="M355.66,882.41 V897.30 M351.66,882.41 H359.66 M351.66,897.30 H359.66" stroke="#111" stroke-width="0.9" fill="none" />
<path d="M353.72,869.58 L357.24,869.58 L355.48,872.78 Z" fill="#111"/>
<path d="M353.72,885.88 L357.24,885.88 L355.48,889.08 Z" fill="#111"/>
<path d="M353.72,892.88 L357.24,892.88 L355.48,896.08 Z" fill="#111"/>
<path d="M353.72,905.50 L357.24,905.50 L355.48,908.70 Z" fill="#111"/>
<path d="M278.75,857.36 H356.53 M278.75,854.36 V860.36 M356.53,854.36 V860.36" stroke="#222" stroke-width="1.2" fill="none" />
<text x="318.34" y="858.31" font-size="6.2" font-weight="bold" fill="#222" stroke="#222" stroke-width="0.15" text-anchor="middle">*</text>
<path d="M303.62,864.37 H356.53 M303.62,861.37 V867.37 M356.53,861.37 V867.37" stroke="#222" stroke-width="1.0" fill="none" />
<text x="329.20" y="864.26" font-size="6.2" font-weight="bold" fill="#222" stroke="#222" stroke-width="0.15" text-anchor="middle">**</text>
<path d="M303.62,870.67 H330.95 M303.62,867.67 V873.67 M330.95,867.67 V873.67" stroke="#8a8a8a" stroke-width="1.0" fill="none" />
<text x="317.29" y="871.80" font-size="6.2" font-weight="bold" fill="#222" stroke="#222" stroke-width="0.15" text-anchor="middle">**</text>
</g>
<g id="panel-p">
<text x="471.60" y="838.20" font-size="17.5" font-weight="bold" fill="#111" stroke="#111" stroke-width="0.12">p</text>
<text x="538.80" y="850.00" font-size="8.9" font-weight="bold" fill="#111" stroke="#111" stroke-width="0.2" textLength="38.30" lengthAdjust="spacingAndGlyphs"><tspan font-style="italic">Glut4</tspan> t.a.</text>
<path d="M503.5,861.3 V933.5 H611.7" stroke="#3a3a3a" stroke-width="1.15" fill="none" />
<line x1="500.50" y1="933.50" x2="503.50" y2="933.50" stroke="#3a3a3a" stroke-width="1.05" />
<text x="499.70" y="935.90" font-size="6.8" font-weight="bold" fill="#111" stroke="#111" stroke-width="0.22" text-anchor="end">0.0</text>
<line x1="500.50" y1="915.62" x2="503.50" y2="915.62" stroke="#3a3a3a" stroke-width="1.05" />
<text x="499.70" y="918.02" font-size="6.8" font-weight="bold" fill="#111" stroke="#111" stroke-width="0.22" text-anchor="end">0.5</text>
<line x1="500.50" y1="897.75" x2="503.50" y2="897.75" stroke="#3a3a3a" stroke-width="1.05" />
<text x="499.70" y="900.15" font-size="6.8" font-weight="bold" fill="#111" stroke="#111" stroke-width="0.22" text-anchor="end">1.0</text>
<line x1="500.50" y1="879.88" x2="503.50" y2="879.88" stroke="#3a3a3a" stroke-width="1.05" />
<text x="499.70" y="882.27" font-size="6.8" font-weight="bold" fill="#111" stroke="#111" stroke-width="0.22" text-anchor="end">1.5</text>
<line x1="500.50" y1="862.00" x2="503.50" y2="862.00" stroke="#3a3a3a" stroke-width="1.05" />
<text x="499.70" y="864.40" font-size="6.8" font-weight="bold" fill="#111" stroke="#111" stroke-width="0.22" text-anchor="end">2.0</text>
<line x1="520.41" y1="933.50" x2="520.41" y2="936.70" stroke="#3a3a3a" stroke-width="1.05" />
<text x="523.01" y="943.50" font-size="8.0" font-weight="bold" fill="#111" stroke="#111" stroke-width="0.12" text-anchor="end" transform="rotate(-45 523.01 943.50)">Wt+V</text>
<line x1="545.29" y1="933.50" x2="545.29" y2="936.70" stroke="#3a3a3a" stroke-width="1.05" />
<text x="547.89" y="943.50" font-size="8.0" font-weight="bold" fill="#111" stroke="#111" stroke-width="0.12" text-anchor="end" transform="rotate(-45 547.89 943.50)">Wt+CORT</text>
<line x1="570.08" y1="933.50" x2="570.08" y2="936.70" stroke="#3a3a3a" stroke-width="1.05" />
<text x="572.68" y="943.50" font-size="8.0" font-weight="bold" fill="#111" stroke="#111" stroke-width="0.12" text-anchor="end" transform="rotate(-45 572.68 943.50)">SOD1+V</text>
<line x1="594.95" y1="933.50" x2="594.95" y2="936.70" stroke="#3a3a3a" stroke-width="1.05" />
<text x="597.55" y="943.50" font-size="8.0" font-weight="bold" fill="#111" stroke="#111" stroke-width="0.12" text-anchor="end" transform="rotate(-45 597.55 943.50)">SOD1+CORT</text>
<text x="485.80" y="943.40" font-size="7.9" font-weight="bold" fill="#111" stroke="#111" stroke-width="0.3" transform="rotate(-90 485.80 943.40)" textLength="93.50" lengthAdjust="spacingAndGlyphs">Mean fold change <tspan fill="#6e6e6e" stroke="#6e6e6e" stroke-width="0.15" font-weight="normal">±</tspan> SEM</text>
<rect x="512.46" y="898.33" width="15.90" height="35.17" fill="#dcdcdc" stroke="#000" stroke-width="1.3"/>
<path d="M520.41,892.57 V902.56 M516.41,892.57 H524.41 M516.41,902.56 H524.41" stroke="#111" stroke-width="0.9" fill="none" />
<circle cx="520.50" cy="887.32" r="1.60" fill="#111"/>
<circle cx="520.50" cy="891.52" r="1.60" fill="#111"/>
<circle cx="517.52" cy="907.46" r="1.60" fill="#111"/>
<circle cx="523.30" cy="905.54" r="1.60" fill="#111"/>
<rect x="537.34" y="901.48" width="15.90" height="32.02" fill="url(#pg)" stroke="#000" stroke-width="1.3"/>
<path d="M545.29,893.27 V909.22 M541.29,893.27 H549.29 M541.29,909.22 H549.29" stroke="#111" stroke-width="0.9" fill="none" />
<rect x="543.60" y="876.08" width="3.20" height="3.20" fill="#111"/>
<rect x="540.97" y="904.46" width="3.20" height="3.20" fill="#111"/>
<rect x="546.58" y="906.74" width="3.20" height="3.20" fill="#111"/>
<rect x="543.60" y="911.12" width="3.20" height="3.20" fill="#111"/>
<rect x="562.13" y="915.32" width="15.90" height="18.18" fill="#9b0000" stroke="#000" stroke-width="1.3"/>
<path d="M570.08,909.57 V919.73 M566.08,909.57 H574.08 M566.08,919.73 H574.08" stroke="#111" stroke-width="0.9" fill="none" />
<path d="M565.34,908.03 L568.86,908.03 L567.10,904.83 Z" fill="#111"/>
<path d="M571.12,906.28 L574.64,906.28 L572.88,903.08 Z" fill="#111"/>
<path d="M568.32,923.62 L571.84,923.62 L570.08,920.42 Z" fill="#111"/>
<path d="M568.32,927.12 L571.84,927.12 L570.08,923.92 Z" fill="#111"/>
<rect x="587.00" y="918.48" width="15.90" height="15.02" fill="url(#pp)" stroke="#000" stroke-width="1.3"/>
<path d="M594.95,916.22 V920.60 M590.95,916.22 H598.95 M590.95,920.60 H598.95" stroke="#111" stroke-width="0.9" fill="none" />
<path d="M590.22,911.98 L593.74,911.98 L591.98,915.18 Z" fill="#111"/>
<path d="M595.82,911.28 L599.34,911.28 L597.58,914.48 Z" fill="#111"/>
<path d="M592.84,916.01 L596.36,916.01 L594.60,919.21 Z" fill="#111"/>
<path d="M592.84,924.42 L596.36,924.42 L594.60,927.62 Z" fill="#111"/>
</g>
</svg>
</body>
</html>
